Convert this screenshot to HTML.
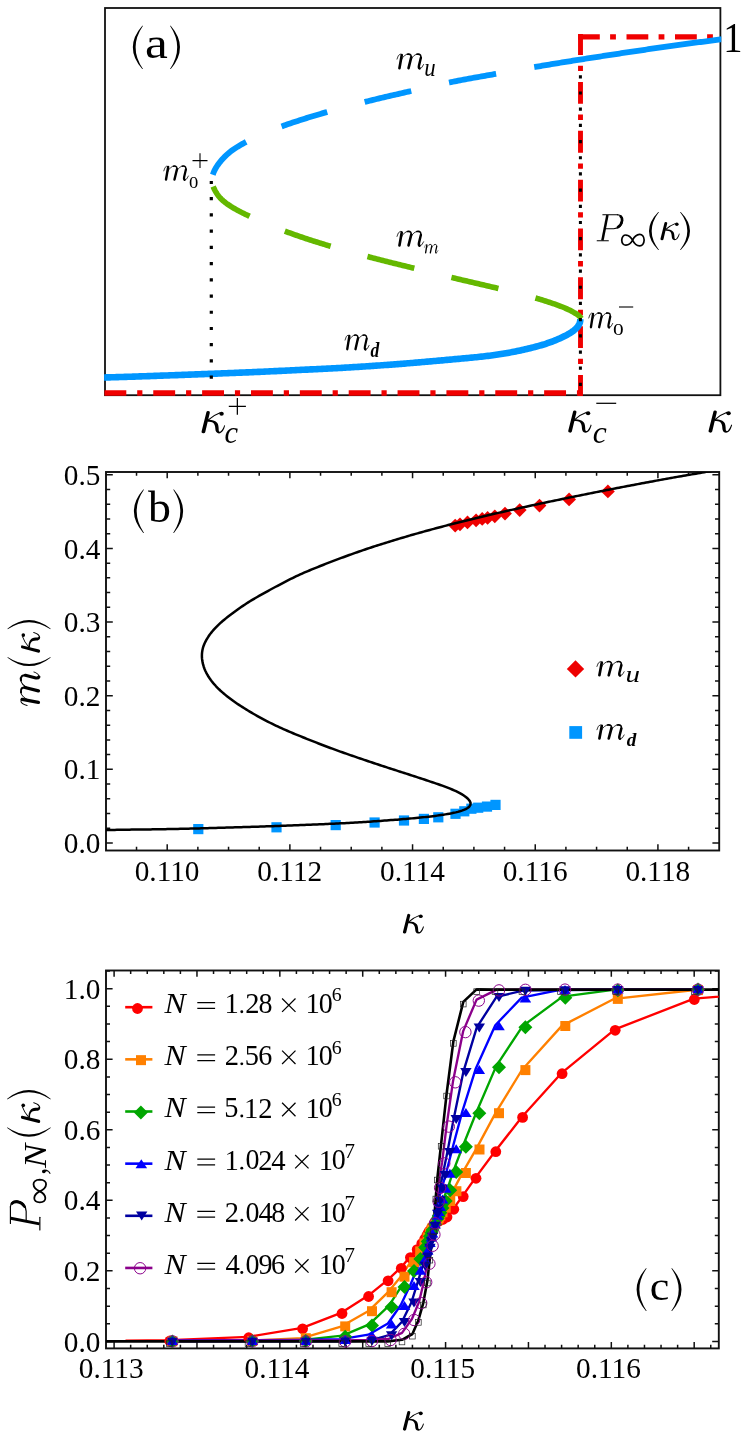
<!DOCTYPE html>
<html><head><meta charset="utf-8"><title>figure</title>
<style>
html,body{margin:0;padding:0;background:#fff;}
body{width:748px;height:1439px;overflow:hidden;font-family:"Liberation Serif",serif;}
svg{display:block;will-change:transform;}
svg text{font-family:"Liberation Serif",serif;fill:#000;}
</style></head><body>
<svg width="748" height="1439" viewBox="0 0 748 1439">
<g id="pa">
<clipPath id="clipA"><rect x="104.1" y="7.1" width="617.2" height="389"/></clipPath>
<rect x="105" y="8" width="615.4" height="387.2" fill="none" stroke="#111" stroke-width="1.8"/>
<g clip-path="url(#clipA)">
<path d="M104.4 392.9 H583" fill="none" stroke="#f00000" stroke-width="5.5" stroke-dasharray="21.9 10.9 5.2 10.86"/>
<path d="M580.5 396.8 V34.1" fill="none" stroke="#f00000" stroke-width="4.9" stroke-dasharray="21.8 10.9 5.4 10.73"/>
<path d="M578 36.8 H721" fill="none" stroke="#f00000" stroke-width="5.2" stroke-dasharray="21.8 10.3 5.8 10.6"/>
<path d="M580.3 319.2 L580.23 320.88 L579.89 322.49 L579.31 324.03 L578.53 325.48 L577.58 326.83 L576.49 328.1 L575.31 329.26 L574.05 330.33 L572.73 331.32 L571.37 332.25 L569.97 333.13 L568.56 333.97 L567.12 334.78 L565.67 335.56 L564.2 336.31 L562.72 337.03 L561.23 337.74 L559.73 338.42 L558.22 339.09 L556.71 339.73 L555.19 340.36 L553.66 340.97 L552.12 341.57 L550.58 342.14 L549.03 342.7 L547.47 343.24 L545.91 343.76 L544.34 344.27 L542.77 344.75 L541.19 345.23 L539.61 345.68 L538.02 346.13 L536.43 346.56 L534.84 346.98 L533.24 347.39 L531.65 347.79 L530.05 348.19 L528.44 348.58 L526.84 348.96 L525.24 349.33 L523.63 349.7 L522.02 350.06 L520.41 350.41 L518.8 350.76 L517.19 351.1 L515.58 351.43 L513.96 351.75 L512.34 352.07 L510.73 352.37 L509.11 352.68 L507.49 352.97 L505.86 353.25 L504.24 353.53 L502.62 353.8 L500.99 354.06 L499.36 354.31 L497.74 354.56 L496.11 354.8 L494.48 355.03 L492.84 355.25 L491.21 355.47 L489.58 355.68 L487.94 355.89 L486.31 356.08 L484.67 356.28 L483.04 356.47 L481.4 356.65 L479.76 356.83 L478.12 357 L476.49 357.17 L474.85 357.33 L473.21 357.49 L471.57 357.65 L469.93 357.81 L468.29 357.96 L466.65 358.11 L465.01 358.26 L463.37 358.41 L461.73 358.56 L460.09 358.71 L458.45 358.86 L456.81 359.01 L455.17 359.15 L453.53 359.3 L451.89 359.45 L450.25 359.6 L448.61 359.75 L446.97 359.89 L445.33 360.04 L443.69 360.19 L442.05 360.34 L440.41 360.48 L438.77 360.63 L437.13 360.78 L435.49 360.92 L433.85 361.07 L432.21 361.22 L430.57 361.36 L428.93 361.51 L427.29 361.65 L425.64 361.8 L424 361.94 L422.36 362.08 L420.72 362.22 L419.08 362.37 L417.44 362.51 L415.8 362.65 L414.16 362.78 L412.52 362.92 L410.88 363.06 L409.24 363.19 L407.59 363.33 L405.95 363.46 L404.31 363.59 L402.67 363.72 L401.03 363.85 L399.39 363.98 L397.74 364.1 L396.1 364.23 L394.46 364.35 L392.82 364.47 L391.18 364.6 L389.53 364.72 L387.89 364.84 L386.25 364.96 L384.61 365.07 L382.96 365.19 L381.32 365.31 L379.68 365.42 L378.03 365.54 L376.39 365.65 L374.75 365.76 L373.11 365.88 L371.46 365.99 L369.82 366.1 L368.18 366.21 L366.53 366.32 L364.89 366.43 L363.25 366.53 L361.6 366.64 L359.96 366.75 L358.32 366.85 L356.67 366.95 L355.03 367.06 L353.39 367.16 L351.74 367.26 L350.1 367.36 L348.45 367.45 L346.81 367.55 L345.17 367.65 L343.52 367.74 L341.88 367.83 L340.23 367.93 L338.59 368.02 L336.94 368.11 L335.3 368.19 L333.66 368.28 L332.01 368.37 L330.37 368.45 L328.72 368.54 L327.08 368.62 L325.43 368.7 L323.79 368.78 L322.14 368.87 L320.5 368.95 L318.85 369.03 L317.21 369.11 L315.56 369.19 L313.92 369.27 L312.27 369.34 L310.63 369.42 L308.98 369.5 L307.34 369.58 L305.69 369.66 L304.05 369.74 L302.4 369.81 L300.76 369.89 L299.11 369.97 L297.47 370.05 L295.82 370.13 L294.18 370.21 L292.53 370.29 L290.89 370.37 L289.24 370.45 L287.6 370.53 L285.96 370.6 L284.31 370.68 L282.67 370.76 L281.02 370.84 L279.38 370.92 L277.73 371 L276.09 371.08 L274.44 371.15 L272.8 371.23 L271.15 371.31 L269.51 371.39 L267.86 371.46 L266.22 371.54 L264.57 371.61 L262.93 371.69 L261.28 371.76 L259.63 371.83 L257.99 371.91 L256.34 371.98 L254.7 372.05 L253.05 372.12 L251.41 372.19 L249.76 372.26 L248.12 372.33 L246.47 372.4 L244.83 372.47 L243.18 372.54 L241.54 372.6 L239.89 372.67 L238.25 372.74 L236.6 372.8 L234.95 372.87 L233.31 372.93 L231.66 373 L230.02 373.06 L228.37 373.13 L226.73 373.19 L225.08 373.26 L223.44 373.32 L221.79 373.38 L220.14 373.45 L218.5 373.51 L216.85 373.58 L215.21 373.64 L213.56 373.7 L211.92 373.76 L210.27 373.83 L208.63 373.89 L206.98 373.95 L205.33 374.02 L203.69 374.08 L202.04 374.14 L200.4 374.21 L198.75 374.27 L197.11 374.33 L195.46 374.39 L193.81 374.46 L192.17 374.52 L190.52 374.58 L188.88 374.64 L187.23 374.71 L185.59 374.77 L183.94 374.83 L182.3 374.89 L180.65 374.95 L179 375.01 L177.36 375.08 L175.71 375.14 L174.07 375.2 L172.42 375.26 L170.78 375.32 L169.13 375.38 L167.48 375.44 L165.84 375.5 L164.19 375.56 L162.55 375.62 L160.9 375.67 L159.26 375.73 L157.61 375.79 L155.96 375.85 L154.32 375.91 L152.67 375.97 L151.03 376.02 L149.38 376.08 L147.74 376.14 L146.09 376.19 L144.44 376.25 L142.8 376.3 L141.15 376.36 L139.51 376.41 L137.86 376.47 L136.21 376.52 L134.57 376.58 L132.92 376.63 L131.28 376.68 L129.63 376.73 L127.98 376.79 L126.34 376.84 L124.69 376.89 L123.05 376.94 L121.4 376.99 L119.75 377.04 L118.11 377.09 L116.46 377.14 L114.82 377.19 L113.17 377.24 L111.52 377.28 L109.88 377.33 L108.23 377.38 L106.58 377.42 L104.94 377.47 L103.29 377.51 L101.65 377.56 L100 377.6" fill="none" stroke="#0096ff" stroke-width="6.6" stroke-linejoin="round"/>
<path d="M213.23 186.55 L213.73 187.81 L214.27 189.05 L214.87 190.27 L215.51 191.47 L216.2 192.63 L216.94 193.77 L217.72 194.88 L218.54 195.96 L219.4 197 L220.3 198 L221.24 198.97 L222.21 199.91 L223.21 200.82 L224.24 201.69 L225.29 202.54 L226.37 203.36 L227.47 204.16 L228.59 204.93 L229.72 205.68 L230.87 206.42 L232.03 207.13 L233.19 207.83 L234.36 208.52 L235.54 209.19 L236.72 209.85 L237.91 210.49 L239.1 211.13 L240.3 211.75 L241.5 212.37 L242.7 212.97 L243.91 213.57 L245.12 214.16 L246.33 214.75 L247.55 215.33 L248.77 215.9 L249.99 216.47 L251.21 217.04 L252.43 217.61 L253.66 218.17 L254.89 218.73 L256.12 219.28 L257.35 219.83 L258.58 220.38 L259.81 220.92 L261.05 221.47 L262.29 222 L263.53 222.54 L264.77 223.07 L266.01 223.6 L267.25 224.12 L268.5 224.64 L269.75 225.16 L271 225.67 L272.25 226.19 L273.5 226.69 L274.75 227.2 L276 227.7 L277.26 228.2 L278.52 228.69 L279.77 229.18 L281.03 229.67 L282.29 230.15 L283.56 230.63 L284.82 231.11 L286.08 231.58 L287.35 232.05 L288.61 232.52 L289.88 232.98 L291.15 233.44 L292.42 233.9 L293.69 234.36 L294.96 234.81 L296.24 235.25 L297.51 235.7 L298.79 236.14 L300.06 236.58 L301.34 237.02 L302.62 237.45 L303.9 237.88 L305.18 238.31 L306.46 238.73 L307.74 239.16 L309.02 239.58 L310.31 239.99 L311.59 240.41 L312.87 240.82 L314.16 241.23 L315.45 241.64 L316.73 242.04 L318.02 242.45 L319.31 242.85 L320.6 243.25 L321.89 243.64 L323.18 244.04 L324.47 244.43 L325.76 244.82 L327.06 245.21 L328.35 245.59 L329.64 245.98 L330.94 246.36 L332.23 246.74 L333.53 247.12 L334.82 247.49 L336.12 247.87 L337.42 248.24 L338.71 248.62 L340.01 248.99 L341.31 249.35 L342.61 249.72 L343.91 250.09 L345.21 250.45 L346.5 250.82 L347.8 251.18 L349.1 251.54 L350.41 251.9 L351.71 252.26 L353.01 252.61 L354.31 252.97 L355.61 253.32 L356.91 253.68 L358.22 254.03 L359.52 254.38 L360.82 254.73 L362.12 255.08 L363.43 255.43 L364.73 255.78 L366.03 256.13 L367.34 256.48 L368.64 256.82 L369.95 257.17 L371.25 257.52 L372.56 257.86 L373.86 258.2 L375.17 258.55 L376.47 258.89 L377.78 259.23 L379.08 259.56 L380.39 259.9 L381.7 260.24 L383 260.57 L384.31 260.9 L385.62 261.23 L386.93 261.56 L388.24 261.89 L389.55 262.21 L390.86 262.54 L392.17 262.86 L393.48 263.19 L394.79 263.51 L396.1 263.83 L397.41 264.15 L398.72 264.48 L400.03 264.8 L401.34 265.12 L402.65 265.44 L403.96 265.76 L405.27 266.07 L406.58 266.39 L407.89 266.71 L409.2 267.03 L410.52 267.35 L411.83 267.67 L413.14 267.99 L414.45 268.31 L415.76 268.64 L417.07 268.96 L418.38 269.28 L419.69 269.6 L421 269.92 L422.31 270.25 L423.62 270.57 L424.93 270.9 L426.24 271.22 L427.55 271.54 L428.86 271.87 L430.17 272.19 L431.48 272.52 L432.79 272.84 L434.1 273.16 L435.41 273.49 L436.72 273.81 L438.03 274.13 L439.34 274.46 L440.65 274.78 L441.96 275.1 L443.27 275.42 L444.58 275.74 L445.89 276.06 L447.2 276.38 L448.51 276.7 L449.82 277.02 L451.14 277.34 L452.45 277.65 L453.76 277.97 L455.07 278.28 L456.38 278.6 L457.7 278.91 L459.01 279.22 L460.32 279.53 L461.63 279.85 L462.95 280.16 L464.26 280.47 L465.57 280.78 L466.89 281.08 L468.2 281.39 L469.51 281.7 L470.83 282.01 L472.14 282.32 L473.45 282.62 L474.77 282.93 L476.08 283.24 L477.39 283.55 L478.71 283.85 L480.02 284.16 L481.34 284.46 L482.65 284.77 L483.96 285.08 L485.28 285.38 L486.59 285.69 L487.91 286 L489.22 286.31 L490.53 286.61 L491.85 286.92 L493.16 287.23 L494.48 287.54 L495.79 287.84 L497.11 288.15 L498.42 288.46 L499.73 288.77 L501.05 289.08 L502.36 289.39 L503.67 289.71 L504.99 290.02 L506.3 290.33 L507.61 290.65 L508.93 290.97 L510.24 291.29 L511.55 291.61 L512.86 291.93 L514.17 292.25 L515.48 292.58 L516.79 292.91 L518.1 293.24 L519.41 293.57 L520.71 293.91 L522.02 294.25 L523.32 294.59 L524.63 294.93 L525.93 295.28 L527.23 295.64 L528.53 295.99 L529.84 296.35 L531.13 296.71 L532.43 297.08 L533.73 297.45 L535.02 297.83 L536.32 298.21 L537.61 298.59 L538.9 298.98 L540.19 299.37 L541.48 299.77 L542.77 300.17 L544.05 300.58 L545.34 300.99 L546.62 301.4 L547.9 301.82 L549.19 302.24 L550.47 302.67 L551.75 303.1 L553.03 303.54 L554.31 303.97 L555.58 304.42 L556.86 304.87 L558.13 305.32 L559.4 305.79 L560.66 306.27 L561.92 306.76 L563.18 307.26 L564.42 307.77 L565.66 308.31 L566.89 308.86 L568.1 309.42 L569.31 310.01 L570.51 310.62 L571.71 311.25 L572.89 311.9 L574.07 312.56 L575.24 313.25 L576.41 313.95 L577.55 314.7 L578.63 315.51 L579.62 316.42 L580.48 317.44 L581.2 318.6" fill="none" stroke="#64b800" stroke-width="5.6" stroke-dasharray="48.3 38.2 48.3 38.2 48.3 38.2 48.3 38.2 70 100"/>
<path d="M212.8 174.66 L213.42 172.95 L214.13 171.29 L214.93 169.66 L215.81 168.06 L216.76 166.5 L217.77 164.98 L218.84 163.5 L219.96 162.05 L221.11 160.63 L222.31 159.25 L223.55 157.91 L224.82 156.61 L226.13 155.34 L227.47 154.12 L228.85 152.93 L230.27 151.79 L231.71 150.69 L233.18 149.63 L234.68 148.6 L236.21 147.61 L237.75 146.64 L239.32 145.71 L240.89 144.79 L242.48 143.9 L244.08 143.02 L245.69 142.16 L247.3 141.31 L248.92 140.47 L250.54 139.65 L252.17 138.83 L253.8 138.03 L255.43 137.23 L257.07 136.45 L258.72 135.68 L260.37 134.93 L262.03 134.19 L263.69 133.46 L265.36 132.74 L267.04 132.04 L268.72 131.35 L270.41 130.67 L272.1 130 L273.79 129.34 L275.49 128.69 L277.19 128.04 L278.9 127.41 L280.61 126.79 L282.32 126.17 L284.03 125.56 L285.75 124.96 L287.47 124.36 L289.19 123.77 L290.91 123.18 L292.63 122.6 L294.36 122.03 L296.08 121.46 L297.81 120.9 L299.54 120.34 L301.27 119.78 L303 119.23 L304.74 118.68 L306.47 118.14 L308.21 117.6 L309.94 117.06 L311.68 116.53 L313.42 116 L315.16 115.47 L316.9 114.95 L318.65 114.43 L320.39 113.92 L322.13 113.4 L323.88 112.9 L325.63 112.39 L327.38 111.89 L329.12 111.4 L330.87 110.9 L332.63 110.41 L334.38 109.93 L336.13 109.45 L337.88 108.97 L339.64 108.49 L341.39 108.02 L343.15 107.55 L344.91 107.08 L346.66 106.61 L348.42 106.15 L350.18 105.69 L351.94 105.23 L353.7 104.78 L355.46 104.32 L357.22 103.87 L358.98 103.42 L360.75 102.97 L362.51 102.53 L364.27 102.08 L366.03 101.64 L367.8 101.19 L369.56 100.75 L371.33 100.32 L373.09 99.88 L374.86 99.45 L376.62 99.01 L378.39 98.59 L380.16 98.16 L381.93 97.74 L383.7 97.32 L385.46 96.91 L387.24 96.49 L389.01 96.08 L390.78 95.67 L392.55 95.27 L394.32 94.86 L396.09 94.46 L397.87 94.05 L399.64 93.65 L401.41 93.25 L403.19 92.85 L404.96 92.44 L406.73 92.04 L408.5 91.64 L410.28 91.23 L412.05 90.83 L413.82 90.42 L415.59 90.01 L417.37 89.61 L419.14 89.2 L420.91 88.79 L422.68 88.38 L424.45 87.97 L426.22 87.56 L428 87.16 L429.77 86.75 L431.54 86.35 L433.32 85.95 L435.09 85.55 L436.86 85.15 L438.64 84.76 L440.41 84.37 L442.19 83.98 L443.97 83.6 L445.75 83.22 L447.52 82.85 L449.3 82.48 L451.08 82.11 L452.87 81.75 L454.65 81.39 L456.43 81.04 L458.22 80.69 L460 80.35 L461.79 80.01 L463.57 79.67 L465.36 79.33 L467.15 79 L468.93 78.67 L470.72 78.35 L472.51 78.02 L474.3 77.7 L476.09 77.38 L477.88 77.06 L479.67 76.74 L481.46 76.42 L483.25 76.11 L485.04 75.79 L486.83 75.48 L488.63 75.16 L490.42 74.85 L492.21 74.53 L494 74.22 L495.79 73.9 L497.58 73.59 L499.37 73.27 L501.16 72.95 L502.95 72.63 L504.74 72.31 L506.53 72 L508.32 71.68 L510.11 71.36 L511.9 71.04 L513.69 70.72 L515.48 70.4 L517.27 70.08 L519.06 69.77 L520.85 69.45 L522.64 69.13 L524.43 68.82 L526.22 68.5 L528.01 68.19 L529.8 67.88 L531.59 67.56 L533.38 67.25 L535.18 66.95 L536.97 66.64 L538.76 66.33 L540.55 66.03 L542.34 65.72 L544.14 65.42 L545.93 65.12 L547.72 64.82 L549.52 64.52 L551.31 64.22 L553.1 63.93 L554.9 63.63 L556.69 63.34 L558.49 63.04 L560.28 62.75 L562.08 62.46 L563.87 62.17 L565.66 61.88 L567.46 61.59 L569.25 61.31 L571.05 61.02 L572.85 60.73 L574.64 60.45 L576.44 60.16 L578.23 59.88 L580.03 59.6 L581.82 59.31 L583.62 59.03 L585.42 58.75 L587.21 58.47 L589.01 58.19 L590.81 57.91 L592.6 57.63 L594.4 57.35 L596.2 57.08 L597.99 56.8 L599.79 56.52 L601.59 56.25 L603.38 55.97 L605.18 55.69 L606.98 55.42 L608.77 55.15 L610.57 54.87 L612.37 54.6 L614.17 54.33 L615.96 54.05 L617.76 53.78 L619.56 53.51 L621.36 53.24 L623.16 52.97 L624.95 52.7 L626.75 52.43 L628.55 52.16 L630.35 51.89 L632.15 51.62 L633.94 51.36 L635.74 51.09 L637.54 50.82 L639.34 50.56 L641.14 50.29 L642.94 50.03 L644.74 49.77 L646.53 49.5 L648.33 49.24 L650.13 48.98 L651.93 48.72 L653.73 48.46 L655.53 48.2 L657.33 47.94 L659.13 47.69 L660.93 47.43 L662.73 47.17 L664.53 46.92 L666.33 46.66 L668.13 46.41 L669.93 46.16 L671.73 45.91 L673.53 45.65 L675.33 45.4 L677.13 45.16 L678.93 44.91 L680.74 44.66 L682.54 44.41 L684.34 44.17 L686.14 43.92 L687.94 43.68 L689.74 43.43 L691.54 43.19 L693.35 42.95 L695.15 42.71 L696.95 42.47 L698.75 42.23 L700.56 42 L702.36 41.76 L704.16 41.52 L705.96 41.29 L707.77 41.06 L709.57 40.82 L711.37 40.59 L713.18 40.36 L714.98 40.13 L716.78 39.9 L718.59 39.68 L720.39 39.45 L722.2 39.22 L724 39" fill="none" stroke="#0096ff" stroke-width="5.8" stroke-dasharray="47.9 38.7 47.9 38.7 47.9 38.7 47.9 38.7 2000 1"/>
<path d="M211.3 180.9 V380" fill="none" stroke="#000" stroke-width="3.2" stroke-dasharray="3.2 13.02"/>
<path d="M580.4 75.2 V387" fill="none" stroke="#000" stroke-width="3.0" stroke-dasharray="3.2 12.99"/>
</g>
<path transform="translate(132.8 25.7)" d="M9.45 0 Q-9.45 21.65 9.45 43.3 L10.2 43.3 Q-4.65 21.65 10.2 0 Z" fill="#000"/>
<text transform="translate(144.9 58.46) scale(1.180 1)" font-size="43.54">a</text>
<path transform="translate(170 25.7)" d="M0.75 0 Q19.25 21.65 0.75 43.3 L0 43.3 Q14.45 21.65 0 0 Z" fill="#000"/>
<text transform="translate(723.22 51.7) scale(0.919 1)" font-size="41.97">1</text>
<g transform="translate(396.6 53.4) scale(15.31 16.1)" fill="none" stroke="#000" stroke-linecap="round" stroke-linejoin="round">
<path d="M0.335 0.11 L0.185 0.915" stroke-width="0.17"/>
<path d="M0.955 0.25 L0.78 0.915" stroke-width="0.17"/>
<path d="M1.585 0.27 L1.465 0.74 Q1.425 0.90 1.50 0.935" stroke-width="0.16"/>
<path d="M0.025 0.355 Q0.10 0.06 0.24 0.045 Q0.32 0.045 0.335 0.12" stroke-width="0.05"/>
<path d="M0.29 0.44 Q0.48 0.03 0.78 0.04" stroke-width="0.05"/>
<path d="M0.70 0.05 Q0.85 0.02 0.925 0.10 Q0.965 0.16 0.955 0.26" stroke-width="0.10"/>
<path d="M0.91 0.44 Q1.10 0.03 1.40 0.04" stroke-width="0.05"/>
<path d="M1.32 0.05 Q1.48 0.02 1.555 0.10 Q1.595 0.16 1.585 0.28" stroke-width="0.10"/>
<path d="M1.50 0.94 Q1.66 0.96 1.765 0.69" stroke-width="0.05"/>
</g>
<text transform="translate(424.26 75.78) scale(0.897 1)" font-size="25.4" font-style="italic">u</text>
<g transform="translate(396.6 230.7) scale(15.31 16.1)" fill="none" stroke="#000" stroke-linecap="round" stroke-linejoin="round">
<path d="M0.335 0.11 L0.185 0.915" stroke-width="0.17"/>
<path d="M0.955 0.25 L0.78 0.915" stroke-width="0.17"/>
<path d="M1.585 0.27 L1.465 0.74 Q1.425 0.90 1.50 0.935" stroke-width="0.16"/>
<path d="M0.025 0.355 Q0.10 0.06 0.24 0.045 Q0.32 0.045 0.335 0.12" stroke-width="0.05"/>
<path d="M0.29 0.44 Q0.48 0.03 0.78 0.04" stroke-width="0.05"/>
<path d="M0.70 0.05 Q0.85 0.02 0.925 0.10 Q0.965 0.16 0.955 0.26" stroke-width="0.10"/>
<path d="M0.91 0.44 Q1.10 0.03 1.40 0.04" stroke-width="0.05"/>
<path d="M1.32 0.05 Q1.48 0.02 1.555 0.10 Q1.595 0.16 1.585 0.28" stroke-width="0.10"/>
<path d="M1.50 0.94 Q1.66 0.96 1.765 0.69" stroke-width="0.05"/>
</g>
<g transform="translate(424.2 244) scale(7.88 9.5)" fill="none" stroke="#000" stroke-linecap="round" stroke-linejoin="round">
<path d="M0.335 0.11 L0.185 0.915" stroke-width="0.17"/>
<path d="M0.955 0.25 L0.78 0.915" stroke-width="0.17"/>
<path d="M1.585 0.27 L1.465 0.74 Q1.425 0.90 1.50 0.935" stroke-width="0.16"/>
<path d="M0.025 0.355 Q0.10 0.06 0.24 0.045 Q0.32 0.045 0.335 0.12" stroke-width="0.05"/>
<path d="M0.29 0.44 Q0.48 0.03 0.78 0.04" stroke-width="0.05"/>
<path d="M0.70 0.05 Q0.85 0.02 0.925 0.10 Q0.965 0.16 0.955 0.26" stroke-width="0.10"/>
<path d="M0.91 0.44 Q1.10 0.03 1.40 0.04" stroke-width="0.05"/>
<path d="M1.32 0.05 Q1.48 0.02 1.555 0.10 Q1.595 0.16 1.585 0.28" stroke-width="0.10"/>
<path d="M1.50 0.94 Q1.66 0.96 1.765 0.69" stroke-width="0.05"/>
</g>
<g transform="translate(344.7 334.4) scale(13.85 16)" fill="none" stroke="#000" stroke-linecap="round" stroke-linejoin="round">
<path d="M0.335 0.11 L0.185 0.915" stroke-width="0.17"/>
<path d="M0.955 0.25 L0.78 0.915" stroke-width="0.17"/>
<path d="M1.585 0.27 L1.465 0.74 Q1.425 0.90 1.50 0.935" stroke-width="0.16"/>
<path d="M0.025 0.355 Q0.10 0.06 0.24 0.045 Q0.32 0.045 0.335 0.12" stroke-width="0.05"/>
<path d="M0.29 0.44 Q0.48 0.03 0.78 0.04" stroke-width="0.05"/>
<path d="M0.70 0.05 Q0.85 0.02 0.925 0.10 Q0.965 0.16 0.955 0.26" stroke-width="0.10"/>
<path d="M0.91 0.44 Q1.10 0.03 1.40 0.04" stroke-width="0.05"/>
<path d="M1.32 0.05 Q1.48 0.02 1.555 0.10 Q1.595 0.16 1.585 0.28" stroke-width="0.10"/>
<path d="M1.50 0.94 Q1.66 0.96 1.765 0.69" stroke-width="0.05"/>
</g>
<text transform="translate(370.58 356.99) scale(0.838 1)" font-size="20.99" font-style="italic" font-weight="bold">d</text>
<g transform="translate(163.4 165.4) scale(14.19 15.4)" fill="none" stroke="#000" stroke-linecap="round" stroke-linejoin="round">
<path d="M0.335 0.11 L0.185 0.915" stroke-width="0.17"/>
<path d="M0.955 0.25 L0.78 0.915" stroke-width="0.17"/>
<path d="M1.585 0.27 L1.465 0.74 Q1.425 0.90 1.50 0.935" stroke-width="0.16"/>
<path d="M0.025 0.355 Q0.10 0.06 0.24 0.045 Q0.32 0.045 0.335 0.12" stroke-width="0.05"/>
<path d="M0.29 0.44 Q0.48 0.03 0.78 0.04" stroke-width="0.05"/>
<path d="M0.70 0.05 Q0.85 0.02 0.925 0.10 Q0.965 0.16 0.955 0.26" stroke-width="0.10"/>
<path d="M0.91 0.44 Q1.10 0.03 1.40 0.04" stroke-width="0.05"/>
<path d="M1.32 0.05 Q1.48 0.02 1.555 0.10 Q1.595 0.16 1.585 0.28" stroke-width="0.10"/>
<path d="M1.50 0.94 Q1.66 0.96 1.765 0.69" stroke-width="0.05"/>
</g>
<text transform="translate(189.1 188.24) scale(1.151 1)" font-size="16.15">0</text>
<path d="M192.5 160.6 H207.5 M200 153.3 V167.9" stroke="#000" stroke-width="1.1" fill="none"/>
<g transform="translate(588.4 312.3) scale(13.8 16.1)" fill="none" stroke="#000" stroke-linecap="round" stroke-linejoin="round">
<path d="M0.335 0.11 L0.185 0.915" stroke-width="0.17"/>
<path d="M0.955 0.25 L0.78 0.915" stroke-width="0.17"/>
<path d="M1.585 0.27 L1.465 0.74 Q1.425 0.90 1.50 0.935" stroke-width="0.16"/>
<path d="M0.025 0.355 Q0.10 0.06 0.24 0.045 Q0.32 0.045 0.335 0.12" stroke-width="0.05"/>
<path d="M0.29 0.44 Q0.48 0.03 0.78 0.04" stroke-width="0.05"/>
<path d="M0.70 0.05 Q0.85 0.02 0.925 0.10 Q0.965 0.16 0.955 0.26" stroke-width="0.10"/>
<path d="M0.91 0.44 Q1.10 0.03 1.40 0.04" stroke-width="0.05"/>
<path d="M1.32 0.05 Q1.48 0.02 1.555 0.10 Q1.595 0.16 1.585 0.28" stroke-width="0.10"/>
<path d="M1.50 0.94 Q1.66 0.96 1.765 0.69" stroke-width="0.05"/>
</g>
<text transform="translate(613.1 334.94) scale(1.302 1)" font-size="16.44">0</text>
<path d="M619 307 H633.2" stroke="#000" stroke-width="1.1" fill="none"/>
<g transform="translate(201.3 433.3) scale(21.94 22.2) translate(0 -1)" fill="#000" stroke="none">
<path d="M0.235 0.045 Q0.25 -0.01 0.32 0 Q0.405 0.012 0.388 0.075 L0.178 0.95 Q0.158 1.012 0.08 1.0 Q-0.005 0.985 0.012 0.92 Z"/>
<path d="M0.29 0.39 Q0.55 0.155 0.85 0.05 L0.87 0.095 Q0.57 0.195 0.31 0.435 Z"/>
<ellipse cx="0.924" cy="0.12" rx="0.10" ry="0.094"/>
<path d="M0.27 0.40 C0.40 0.38 0.60 0.40 0.72 0.53 C0.78 0.60 0.79 0.72 0.795 0.86 C0.80 0.93 0.85 0.95 0.90 0.90 C0.97 0.83 1.02 0.72 1.045 0.635 L1.085 0.65 C1.05 0.80 0.96 1.005 0.80 1.005 C0.68 1.0 0.645 0.90 0.64 0.80 C0.635 0.66 0.60 0.56 0.52 0.51 C0.45 0.47 0.36 0.47 0.28 0.48 Z"/>
</g>
<text transform="translate(224.58 443.19) scale(0.998 1)" font-size="30.62" font-style="italic">c</text>
<path d="M228.8 406.3 H245.9 M237.35 397.9 V414.8" stroke="#000" stroke-width="1.25" fill="none"/>
<g transform="translate(568 432.6) scale(21.75 22) translate(0 -1)" fill="#000" stroke="none">
<path d="M0.235 0.045 Q0.25 -0.01 0.32 0 Q0.405 0.012 0.388 0.075 L0.178 0.95 Q0.158 1.012 0.08 1.0 Q-0.005 0.985 0.012 0.92 Z"/>
<path d="M0.29 0.39 Q0.55 0.155 0.85 0.05 L0.87 0.095 Q0.57 0.195 0.31 0.435 Z"/>
<ellipse cx="0.924" cy="0.12" rx="0.10" ry="0.094"/>
<path d="M0.27 0.40 C0.40 0.38 0.60 0.40 0.72 0.53 C0.78 0.60 0.79 0.72 0.795 0.86 C0.80 0.93 0.85 0.95 0.90 0.90 C0.97 0.83 1.02 0.72 1.045 0.635 L1.085 0.65 C1.05 0.80 0.96 1.005 0.80 1.005 C0.68 1.0 0.645 0.90 0.64 0.80 C0.635 0.66 0.60 0.56 0.52 0.51 C0.45 0.47 0.36 0.47 0.28 0.48 Z"/>
</g>
<text transform="translate(592.75 442.69) scale(1.010 1)" font-size="31.25" font-style="italic">c</text>
<path d="M596.3 403.3 H616.2" stroke="#000" stroke-width="1.25" fill="none"/>
<g transform="translate(708.3 432.6) scale(21.94 22) translate(0 -1)" fill="#000" stroke="none">
<path d="M0.235 0.045 Q0.25 -0.01 0.32 0 Q0.405 0.012 0.388 0.075 L0.178 0.95 Q0.158 1.012 0.08 1.0 Q-0.005 0.985 0.012 0.92 Z"/>
<path d="M0.29 0.39 Q0.55 0.155 0.85 0.05 L0.87 0.095 Q0.57 0.195 0.31 0.435 Z"/>
<ellipse cx="0.924" cy="0.12" rx="0.10" ry="0.094"/>
<path d="M0.27 0.40 C0.40 0.38 0.60 0.40 0.72 0.53 C0.78 0.60 0.79 0.72 0.795 0.86 C0.80 0.93 0.85 0.95 0.90 0.90 C0.97 0.83 1.02 0.72 1.045 0.635 L1.085 0.65 C1.05 0.80 0.96 1.005 0.80 1.005 C0.68 1.0 0.645 0.90 0.64 0.80 C0.635 0.66 0.60 0.56 0.52 0.51 C0.45 0.47 0.36 0.47 0.28 0.48 Z"/>
</g>
<g transform="translate(596.7 214.3) scale(26.5 27)" fill="none" stroke="#000" stroke-linecap="round" stroke-linejoin="round">
<path d="M0.405 0.03 L0.215 0.97" stroke-width="0.095" stroke-linecap="butt"/>
<path d="M0.23 0.02 L0.80 0.02" stroke-width="0.038"/>
<path d="M0.015 0.982 L0.44 0.982" stroke-width="0.038"/>
<path d="M0.78 0.02 Q0.99 0.035 0.985 0.225 Q0.965 0.50 0.64 0.535 L0.32 0.535" stroke-width="0.038"/>
<path d="M0.90 0.075 Q0.965 0.13 0.955 0.24 Q0.93 0.40 0.80 0.475" stroke-width="0.095"/>
</g>
<path transform="translate(632.6 240.1)" d="M0 0 C-3.47 -6.46 -10.63 -7.07 -10.86 0 C-10.63 7.07 -3.47 6.46 0 0 C3.47 -7.38 11.32 -8 11.55 0 C11.32 8 3.47 7.38 0 0 Z" fill="none" stroke="#000" stroke-width="1.7"/>
<path transform="translate(649 212)" d="M9.25 0 Q-9.25 19 9.25 38 L10 38 Q-4.65 19 10 0 Z" fill="#000"/>
<g transform="translate(660.3 240.2) scale(17.88 18.2) translate(0 -1)" fill="#000" stroke="none">
<path d="M0.235 0.045 Q0.25 -0.01 0.32 0 Q0.405 0.012 0.388 0.075 L0.178 0.95 Q0.158 1.012 0.08 1.0 Q-0.005 0.985 0.012 0.92 Z"/>
<path d="M0.29 0.39 Q0.55 0.155 0.85 0.05 L0.87 0.095 Q0.57 0.195 0.31 0.435 Z"/>
<ellipse cx="0.924" cy="0.12" rx="0.10" ry="0.094"/>
<path d="M0.27 0.40 C0.40 0.38 0.60 0.40 0.72 0.53 C0.78 0.60 0.79 0.72 0.795 0.86 C0.80 0.93 0.85 0.95 0.90 0.90 C0.97 0.83 1.02 0.72 1.045 0.635 L1.085 0.65 C1.05 0.80 0.96 1.005 0.80 1.005 C0.68 1.0 0.645 0.90 0.64 0.80 C0.635 0.66 0.60 0.56 0.52 0.51 C0.45 0.47 0.36 0.47 0.28 0.48 Z"/>
</g>
<path transform="translate(680 212)" d="M0.75 0 Q19.25 19 0.75 38 L0 38 Q14.65 19 0 0 Z" fill="#000"/>
</g>
<g id="pb">
<clipPath id="clipB"><rect x="106" y="472" width="613.2" height="378.5"/></clipPath>
<path d="M136.53 850.5 v-3.8 M136.53 472 v3.8 M167.2 850.5 v-6.3 M167.2 472 v6.3 M197.87 850.5 v-3.8 M197.87 472 v3.8 M228.54 850.5 v-3.8 M228.54 472 v3.8 M259.21 850.5 v-3.8 M259.21 472 v3.8 M289.88 850.5 v-6.3 M289.88 472 v6.3 M320.55 850.5 v-3.8 M320.55 472 v3.8 M351.22 850.5 v-3.8 M351.22 472 v3.8 M381.89 850.5 v-3.8 M381.89 472 v3.8 M412.56 850.5 v-6.3 M412.56 472 v6.3 M443.23 850.5 v-3.8 M443.23 472 v3.8 M473.9 850.5 v-3.8 M473.9 472 v3.8 M504.57 850.5 v-3.8 M504.57 472 v3.8 M535.24 850.5 v-6.3 M535.24 472 v6.3 M565.91 850.5 v-3.8 M565.91 472 v3.8 M596.58 850.5 v-3.8 M596.58 472 v3.8 M627.25 850.5 v-3.8 M627.25 472 v3.8 M657.92 850.5 v-6.3 M657.92 472 v6.3 M688.59 850.5 v-3.8 M688.59 472 v3.8 M106 843 h6.8 M719.2 843 h-6.8 M106 828.27 h4.2 M719.2 828.27 h-4.2 M106 813.54 h4.2 M719.2 813.54 h-4.2 M106 798.81 h4.2 M719.2 798.81 h-4.2 M106 784.08 h4.2 M719.2 784.08 h-4.2 M106 769.35 h6.8 M719.2 769.35 h-6.8 M106 754.62 h4.2 M719.2 754.62 h-4.2 M106 739.89 h4.2 M719.2 739.89 h-4.2 M106 725.16 h4.2 M719.2 725.16 h-4.2 M106 710.43 h4.2 M719.2 710.43 h-4.2 M106 695.7 h6.8 M719.2 695.7 h-6.8 M106 680.97 h4.2 M719.2 680.97 h-4.2 M106 666.24 h4.2 M719.2 666.24 h-4.2 M106 651.51 h4.2 M719.2 651.51 h-4.2 M106 636.78 h4.2 M719.2 636.78 h-4.2 M106 622.05 h6.8 M719.2 622.05 h-6.8 M106 607.32 h4.2 M719.2 607.32 h-4.2 M106 592.59 h4.2 M719.2 592.59 h-4.2 M106 577.86 h4.2 M719.2 577.86 h-4.2 M106 563.13 h4.2 M719.2 563.13 h-4.2 M106 548.4 h6.8 M719.2 548.4 h-6.8 M106 533.67 h4.2 M719.2 533.67 h-4.2 M106 518.94 h4.2 M719.2 518.94 h-4.2 M106 504.21 h4.2 M719.2 504.21 h-4.2 M106 489.48 h4.2 M719.2 489.48 h-4.2 M106 474.75 h6.8 M719.2 474.75 h-6.8" stroke="#111" stroke-width="1.5" fill="none"/>
<rect x="106" y="472" width="613.2" height="378.5" fill="none" stroke="#111" stroke-width="1.9"/>
<text x="100.4" y="853.1" font-size="29.3" text-anchor="end">0.0</text>
<text x="100.4" y="779.45" font-size="29.3" text-anchor="end">0.1</text>
<text x="100.4" y="705.8" font-size="29.3" text-anchor="end">0.2</text>
<text x="100.4" y="632.15" font-size="29.3" text-anchor="end">0.3</text>
<text x="100.4" y="558.5" font-size="29.3" text-anchor="end">0.4</text>
<text x="100.4" y="484.85" font-size="29.3" text-anchor="end">0.5</text>
<text x="167.1" y="880.5" font-size="29.3" text-anchor="middle">0.110</text>
<text x="289.78" y="880.5" font-size="29.3" text-anchor="middle">0.112</text>
<text x="412.46" y="880.5" font-size="29.3" text-anchor="middle">0.114</text>
<text x="535.14" y="880.5" font-size="29.3" text-anchor="middle">0.116</text>
<text x="657.82" y="880.5" font-size="29.3" text-anchor="middle">0.118</text>
<rect x="193.2" y="824" width="10.2" height="10.2" fill="#0096ff"/>
<rect x="271.4" y="822.2" width="10.2" height="10.2" fill="#0096ff"/>
<rect x="330.6" y="820" width="10.2" height="10.2" fill="#0096ff"/>
<rect x="369.5" y="817.4" width="10.2" height="10.2" fill="#0096ff"/>
<rect x="398.9" y="815.4" width="10.2" height="10.2" fill="#0096ff"/>
<rect x="418.8" y="813.8" width="10.2" height="10.2" fill="#0096ff"/>
<rect x="433.2" y="812.2" width="10.2" height="10.2" fill="#0096ff"/>
<rect x="450.4" y="808.7" width="10.2" height="10.2" fill="#0096ff"/>
<rect x="459.2" y="806.2" width="10.2" height="10.2" fill="#0096ff"/>
<rect x="466.3" y="803.6" width="10.2" height="10.2" fill="#0096ff"/>
<rect x="473.1" y="802.6" width="10.2" height="10.2" fill="#0096ff"/>
<rect x="481.9" y="801.5" width="10.2" height="10.2" fill="#0096ff"/>
<rect x="490.4" y="799.8" width="10.2" height="10.2" fill="#0096ff"/>
<path d="M448.3 525.6 l6.9 -6.9 l6.9 6.9 l-6.9 6.9 Z" fill="#ee0000"/>
<path d="M453.1 524.3 l6.9 -6.9 l6.9 6.9 l-6.9 6.9 Z" fill="#ee0000"/>
<path d="M460.6 522.4 l6.9 -6.9 l6.9 6.9 l-6.9 6.9 Z" fill="#ee0000"/>
<path d="M469.2 520.3 l6.9 -6.9 l6.9 6.9 l-6.9 6.9 Z" fill="#ee0000"/>
<path d="M475.3 518.9 l6.9 -6.9 l6.9 6.9 l-6.9 6.9 Z" fill="#ee0000"/>
<path d="M480.7 517.9 l6.9 -6.9 l6.9 6.9 l-6.9 6.9 Z" fill="#ee0000"/>
<path d="M487.9 516.3 l6.9 -6.9 l6.9 6.9 l-6.9 6.9 Z" fill="#ee0000"/>
<path d="M498.1 513.6 l6.9 -6.9 l6.9 6.9 l-6.9 6.9 Z" fill="#ee0000"/>
<path d="M512.8 510.1 l6.9 -6.9 l6.9 6.9 l-6.9 6.9 Z" fill="#ee0000"/>
<path d="M532.6 505.6 l6.9 -6.9 l6.9 6.9 l-6.9 6.9 Z" fill="#ee0000"/>
<path d="M562.2 499.4 l6.9 -6.9 l6.9 6.9 l-6.9 6.9 Z" fill="#ee0000"/>
<path d="M601 491.4 l6.9 -6.9 l6.9 6.9 l-6.9 6.9 Z" fill="#ee0000"/>
<path d="M100 830.3 L102.11 830.22 L104.22 830.15 L106.32 830.09 L108.43 830.03 L110.54 829.98 L112.65 829.93 L114.76 829.88 L116.87 829.84 L118.98 829.8 L121.09 829.76 L123.19 829.73 L125.3 829.7 L127.41 829.67 L129.52 829.64 L131.63 829.61 L133.74 829.59 L135.85 829.57 L137.96 829.54 L140.07 829.52 L142.18 829.49 L144.29 829.47 L146.4 829.45 L148.51 829.42 L150.62 829.39 L152.72 829.36 L154.83 829.33 L156.94 829.3 L159.05 829.26 L161.16 829.23 L163.27 829.19 L165.38 829.15 L167.49 829.11 L169.6 829.07 L171.71 829.03 L173.82 828.99 L175.92 828.94 L178.03 828.89 L180.14 828.85 L182.25 828.8 L184.36 828.75 L186.47 828.7 L188.58 828.65 L190.69 828.6 L192.79 828.54 L194.9 828.49 L197.01 828.43 L199.12 828.38 L201.23 828.32 L203.34 828.27 L205.45 828.21 L207.55 828.15 L209.66 828.09 L211.77 828.03 L213.88 827.97 L215.99 827.91 L218.1 827.85 L220.21 827.79 L222.31 827.73 L224.42 827.67 L226.53 827.61 L228.64 827.54 L230.75 827.48 L232.86 827.42 L234.96 827.35 L237.07 827.29 L239.18 827.23 L241.29 827.16 L243.4 827.1 L245.51 827.03 L247.61 826.96 L249.72 826.9 L251.83 826.83 L253.94 826.76 L256.05 826.7 L258.16 826.63 L260.26 826.56 L262.37 826.49 L264.48 826.42 L266.59 826.35 L268.7 826.27 L270.81 826.2 L272.91 826.13 L275.02 826.05 L277.13 825.98 L279.24 825.9 L281.35 825.82 L283.45 825.75 L285.56 825.67 L287.67 825.59 L289.78 825.51 L291.88 825.42 L293.99 825.34 L296.1 825.26 L298.21 825.18 L300.32 825.09 L302.42 825.01 L304.53 824.92 L306.64 824.84 L308.75 824.75 L310.85 824.66 L312.96 824.58 L315.07 824.49 L317.18 824.4 L319.28 824.31 L321.39 824.22 L323.5 824.13 L325.61 824.04 L327.71 823.95 L329.82 823.86 L331.93 823.76 L334.03 823.67 L336.14 823.57 L338.25 823.47 L340.36 823.37 L342.46 823.27 L344.57 823.16 L346.68 823.06 L348.78 822.95 L350.89 822.83 L353 822.72 L355.1 822.59 L357.21 822.47 L359.31 822.34 L361.42 822.21 L363.52 822.07 L365.63 821.93 L367.73 821.79 L369.84 821.65 L371.94 821.5 L374.04 821.35 L376.15 821.2 L378.25 821.05 L380.36 820.9 L382.46 820.75 L384.56 820.6 L386.67 820.44 L388.77 820.28 L390.87 820.12 L392.98 819.96 L395.08 819.79 L397.18 819.63 L399.29 819.46 L401.39 819.29 L403.49 819.11 L405.59 818.93 L407.69 818.75 L409.8 818.57 L411.9 818.38 L414 818.18 L416.1 817.98 L418.2 817.78 L420.29 817.57 L422.39 817.36 L424.49 817.13 L426.59 816.91 L428.68 816.67 L430.78 816.42 L432.87 816.17 L434.97 815.9 L437.06 815.63 L439.15 815.34 L441.24 815.04 L443.32 814.72 L445.4 814.38 L447.48 814.03 L449.56 813.66 L451.63 813.27 L453.69 812.83 L455.75 812.36 L457.8 811.84 L459.83 811.26 L461.84 810.61 L463.81 809.89 L465.74 809.05 L467.59 808.01 L469.3 806.66 L470.43 804.9 L470.54 802.79 L469.67 800.87 L468.31 799.22 L466.79 797.74 L465.15 796.42 L463.42 795.21 L461.63 794.09 L459.79 793.06 L457.91 792.09 L456.01 791.18 L454.08 790.32 L452.13 789.49 L450.17 788.69 L448.21 787.91 L446.24 787.15 L444.27 786.41 L442.28 785.69 L440.3 784.98 L438.31 784.28 L436.32 783.59 L434.32 782.91 L432.32 782.23 L430.33 781.56 L428.33 780.89 L426.32 780.22 L424.32 779.56 L422.32 778.9 L420.32 778.24 L418.31 777.58 L416.31 776.92 L414.3 776.27 L412.3 775.62 L410.29 774.97 L408.28 774.31 L406.27 773.67 L404.27 773.02 L402.26 772.37 L400.25 771.72 L398.25 771.07 L396.24 770.42 L394.23 769.77 L392.22 769.12 L390.22 768.47 L388.21 767.82 L386.21 767.17 L384.2 766.51 L382.2 765.86 L380.19 765.2 L378.19 764.54 L376.19 763.87 L374.19 763.21 L372.18 762.54 L370.18 761.87 L368.18 761.2 L366.19 760.53 L364.19 759.85 L362.19 759.17 L360.19 758.5 L358.2 757.81 L356.2 757.13 L354.21 756.44 L352.21 755.76 L350.22 755.07 L348.23 754.37 L346.23 753.68 L344.24 752.98 L342.26 752.28 L340.27 751.57 L338.28 750.86 L336.3 750.14 L334.31 749.42 L332.33 748.7 L330.35 747.97 L328.38 747.23 L326.4 746.49 L324.43 745.74 L322.46 744.98 L320.49 744.22 L318.53 743.46 L316.56 742.69 L314.6 741.92 L312.64 741.15 L310.68 740.37 L308.72 739.59 L306.76 738.82 L304.8 738.03 L302.84 737.25 L300.88 736.46 L298.93 735.66 L296.98 734.86 L295.03 734.06 L293.08 733.24 L291.13 732.42 L289.19 731.6 L287.26 730.76 L285.32 729.91 L283.4 729.06 L281.47 728.19 L279.55 727.32 L277.64 726.43 L275.73 725.53 L273.83 724.61 L271.94 723.69 L270.05 722.75 L268.17 721.79 L266.29 720.83 L264.42 719.85 L262.56 718.85 L260.71 717.85 L258.86 716.83 L257.02 715.8 L255.18 714.76 L253.35 713.71 L251.53 712.64 L249.71 711.56 L247.91 710.47 L246.1 709.37 L244.31 708.26 L242.52 707.14 L240.74 706 L238.98 704.84 L237.22 703.67 L235.48 702.48 L233.75 701.27 L232.04 700.04 L230.34 698.78 L228.66 697.51 L227 696.21 L225.35 694.88 L223.73 693.52 L222.13 692.14 L220.56 690.73 L219.02 689.28 L217.52 687.79 L216.05 686.27 L214.63 684.71 L213.25 683.11 L211.92 681.47 L210.64 679.78 L209.42 678.04 L208.27 676.26 L207.19 674.44 L206.19 672.58 L205.28 670.67 L204.46 668.72 L203.74 666.72 L203.13 664.69 L202.63 662.63 L202.26 660.55 L202.01 658.44 L201.9 656.33 L201.94 654.21 L202.12 652.09 L202.45 650 L202.93 647.94 L203.56 645.93 L204.33 643.96 L205.22 642.05 L206.22 640.18 L207.29 638.35 L208.43 636.57 L209.63 634.83 L210.89 633.13 L212.2 631.48 L213.57 629.87 L214.98 628.3 L216.44 626.78 L217.94 625.29 L219.47 623.85 L221.04 622.43 L222.64 621.05 L224.25 619.69 L225.89 618.35 L227.55 617.03 L229.21 615.73 L230.89 614.45 L232.57 613.17 L234.27 611.91 L235.98 610.67 L237.69 609.44 L239.42 608.23 L241.15 607.04 L242.9 605.85 L244.66 604.69 L246.42 603.54 L248.2 602.41 L249.99 601.29 L251.79 600.19 L253.59 599.1 L255.41 598.03 L257.23 596.96 L259.06 595.91 L260.89 594.87 L262.73 593.83 L264.58 592.81 L266.42 591.79 L268.28 590.78 L270.13 589.77 L271.99 588.76 L273.85 587.77 L275.71 586.77 L277.58 585.78 L279.44 584.79 L281.31 583.8 L283.18 582.82 L285.05 581.85 L286.93 580.89 L288.81 579.94 L290.7 578.99 L292.59 578.06 L294.48 577.14 L296.38 576.22 L298.29 575.33 L300.21 574.44 L302.13 573.57 L304.05 572.72 L305.99 571.88 L307.93 571.05 L309.87 570.23 L311.82 569.42 L313.77 568.62 L315.73 567.83 L317.69 567.04 L319.65 566.26 L321.61 565.49 L323.58 564.73 L325.55 563.96 L327.51 563.2 L329.48 562.44 L331.45 561.69 L333.42 560.93 L335.4 560.18 L337.37 559.44 L339.34 558.69 L341.32 557.95 L343.29 557.22 L345.27 556.49 L347.25 555.76 L349.23 555.04 L351.22 554.32 L353.2 553.61 L355.19 552.91 L357.18 552.21 L359.17 551.51 L361.17 550.83 L363.16 550.14 L365.16 549.47 L367.16 548.79 L369.16 548.13 L371.16 547.46 L373.17 546.81 L375.17 546.15 L377.18 545.5 L379.19 544.86 L381.2 544.22 L383.21 543.58 L385.22 542.95 L387.24 542.32 L389.25 541.7 L391.27 541.08 L393.29 540.46 L395.3 539.85 L397.32 539.24 L399.34 538.63 L401.37 538.03 L403.39 537.43 L405.41 536.84 L407.44 536.24 L409.46 535.66 L411.49 535.07 L413.52 534.49 L415.55 533.91 L417.58 533.33 L419.61 532.76 L421.64 532.19 L423.67 531.63 L425.7 531.07 L427.74 530.51 L429.77 529.95 L431.81 529.4 L433.84 528.85 L435.88 528.3 L437.92 527.75 L439.96 527.21 L442 526.67 L444.04 526.14 L446.08 525.6 L448.12 525.07 L450.16 524.55 L452.2 524.02 L454.25 523.5 L456.29 522.98 L458.34 522.47 L460.38 521.95 L462.43 521.44 L464.48 520.93 L466.53 520.43 L468.57 519.92 L470.62 519.42 L472.67 518.92 L474.72 518.43 L476.77 517.93 L478.82 517.44 L480.88 516.95 L482.93 516.46 L484.98 515.98 L487.04 515.49 L489.09 515.01 L491.14 514.53 L493.2 514.06 L495.25 513.58 L497.31 513.11 L499.37 512.64 L501.42 512.17 L503.48 511.7 L505.54 511.24 L507.59 510.77 L509.65 510.31 L511.71 509.85 L513.77 509.39 L515.83 508.94 L517.89 508.48 L519.95 508.03 L522.01 507.58 L524.07 507.12 L526.13 506.68 L528.19 506.23 L530.25 505.78 L532.32 505.34 L534.38 504.89 L536.44 504.45 L538.5 504.01 L540.57 503.57 L542.63 503.13 L544.69 502.7 L546.76 502.26 L548.82 501.83 L550.89 501.39 L552.95 500.96 L555.02 500.53 L557.08 500.1 L559.15 499.67 L561.21 499.25 L563.28 498.82 L565.34 498.39 L567.41 497.97 L569.48 497.55 L571.54 497.12 L573.61 496.7 L575.68 496.28 L577.74 495.86 L579.81 495.45 L581.88 495.03 L583.95 494.61 L586.02 494.2 L588.08 493.78 L590.15 493.37 L592.22 492.96 L594.29 492.55 L596.36 492.14 L598.43 491.73 L600.5 491.32 L602.57 490.91 L604.64 490.5 L606.71 490.1 L608.78 489.69 L610.85 489.29 L612.92 488.88 L614.99 488.48 L617.06 488.08 L619.13 487.68 L621.2 487.28 L623.27 486.88 L625.34 486.48 L627.42 486.09 L629.49 485.69 L631.56 485.3 L633.63 484.9 L635.71 484.51 L637.78 484.12 L639.85 483.73 L641.92 483.34 L644 482.95 L646.07 482.56 L648.14 482.17 L650.22 481.79 L652.29 481.4 L654.37 481.02 L656.44 480.64 L658.52 480.26 L660.59 479.88 L662.67 479.5 L664.74 479.12 L666.82 478.75 L668.89 478.37 L670.97 478 L673.05 477.63 L675.12 477.26 L677.2 476.89 L679.28 476.53 L681.35 476.16 L683.43 475.8 L685.51 475.44 L687.59 475.08 L689.67 474.72 L691.75 474.36 L693.82 474 L695.9 473.65 L697.98 473.29 L700.06 472.93 L702.14 472.58 L704.22 472.22 L706.3 471.86 L708.38 471.5 L710.46 471.15 L712.53 470.79 L714.61 470.43 L716.69 470.06 L718.77 469.7 L720.85 469.34 L722.92 468.97 L725 468.6" fill="none" stroke="#000" stroke-width="2.5" stroke-linejoin="round" clip-path="url(#clipB)"/>
<path d="M566.8 668.9 l8.7 -8.7 l8.7 8.7 l-8.7 8.7 Z" fill="#ee0000"/>
<rect x="569.3" y="726.1" width="12.8" height="12.7" fill="#0096ff"/>
<g transform="translate(596.5 660.9) scale(15.7 15.7)" fill="none" stroke="#000" stroke-linecap="round" stroke-linejoin="round">
<path d="M0.335 0.11 L0.185 0.915" stroke-width="0.17"/>
<path d="M0.955 0.25 L0.78 0.915" stroke-width="0.17"/>
<path d="M1.585 0.27 L1.465 0.74 Q1.425 0.90 1.50 0.935" stroke-width="0.16"/>
<path d="M0.025 0.355 Q0.10 0.06 0.24 0.045 Q0.32 0.045 0.335 0.12" stroke-width="0.05"/>
<path d="M0.29 0.44 Q0.48 0.03 0.78 0.04" stroke-width="0.05"/>
<path d="M0.70 0.05 Q0.85 0.02 0.925 0.10 Q0.965 0.16 0.955 0.26" stroke-width="0.10"/>
<path d="M0.91 0.44 Q1.10 0.03 1.40 0.04" stroke-width="0.05"/>
<path d="M1.32 0.05 Q1.48 0.02 1.555 0.10 Q1.595 0.16 1.585 0.28" stroke-width="0.10"/>
<path d="M1.50 0.94 Q1.66 0.96 1.765 0.69" stroke-width="0.05"/>
</g>
<text transform="translate(625.55 682.2) scale(1.227 1)" font-size="23.7" font-style="italic">u</text>
<g transform="translate(596.5 724.2) scale(15.7 15.6)" fill="none" stroke="#000" stroke-linecap="round" stroke-linejoin="round">
<path d="M0.335 0.11 L0.185 0.915" stroke-width="0.17"/>
<path d="M0.955 0.25 L0.78 0.915" stroke-width="0.17"/>
<path d="M1.585 0.27 L1.465 0.74 Q1.425 0.90 1.50 0.935" stroke-width="0.16"/>
<path d="M0.025 0.355 Q0.10 0.06 0.24 0.045 Q0.32 0.045 0.335 0.12" stroke-width="0.05"/>
<path d="M0.29 0.44 Q0.48 0.03 0.78 0.04" stroke-width="0.05"/>
<path d="M0.70 0.05 Q0.85 0.02 0.925 0.10 Q0.965 0.16 0.955 0.26" stroke-width="0.10"/>
<path d="M0.91 0.44 Q1.10 0.03 1.40 0.04" stroke-width="0.05"/>
<path d="M1.32 0.05 Q1.48 0.02 1.555 0.10 Q1.595 0.16 1.585 0.28" stroke-width="0.10"/>
<path d="M1.50 0.94 Q1.66 0.96 1.765 0.69" stroke-width="0.05"/>
</g>
<text transform="translate(626.76 745.71) scale(0.995 1)" font-size="19.29" font-style="italic" font-weight="bold">d</text>
<path transform="translate(133.9 489.6)" d="M9.35 0 Q-9.35 21.65 9.35 43.3 L10.1 43.3 Q-4.55 21.65 10.1 0 Z" fill="#000"/>
<text transform="translate(148 522.37) scale(1.060 1)" font-size="43.26">b</text>
<path transform="translate(173.2 489.6)" d="M0.75 0 Q19.05 21.65 0.75 43.3 L0 43.3 Q14.25 21.65 0 0 Z" fill="#000"/>
<g transform="translate(20 705.9) rotate(-90) scale(19.27 20.1)" fill="none" stroke="#000" stroke-linecap="round" stroke-linejoin="round">
<path d="M0.335 0.11 L0.185 0.915" stroke-width="0.17"/>
<path d="M0.955 0.25 L0.78 0.915" stroke-width="0.17"/>
<path d="M1.585 0.27 L1.465 0.74 Q1.425 0.90 1.50 0.935" stroke-width="0.16"/>
<path d="M0.025 0.355 Q0.10 0.06 0.24 0.045 Q0.32 0.045 0.335 0.12" stroke-width="0.05"/>
<path d="M0.29 0.44 Q0.48 0.03 0.78 0.04" stroke-width="0.05"/>
<path d="M0.70 0.05 Q0.85 0.02 0.925 0.10 Q0.965 0.16 0.955 0.26" stroke-width="0.10"/>
<path d="M0.91 0.44 Q1.10 0.03 1.40 0.04" stroke-width="0.05"/>
<path d="M1.32 0.05 Q1.48 0.02 1.555 0.10 Q1.595 0.16 1.585 0.28" stroke-width="0.10"/>
<path d="M1.50 0.94 Q1.66 0.96 1.765 0.69" stroke-width="0.05"/>
</g>
<path transform="translate(7.6 666.1) rotate(-90)" d="M8.45 0 Q-8.45 21.45 8.45 42.9 L9.2 42.9 Q-4.85 21.45 9.2 0 Z" fill="#000"/>
<g transform="translate(40.1 652.9) rotate(-90) scale(19.26 19.1) translate(0 -1)" fill="#000" stroke="none">
<path d="M0.235 0.045 Q0.25 -0.01 0.32 0 Q0.405 0.012 0.388 0.075 L0.178 0.95 Q0.158 1.012 0.08 1.0 Q-0.005 0.985 0.012 0.92 Z"/>
<path d="M0.29 0.39 Q0.55 0.155 0.85 0.05 L0.87 0.095 Q0.57 0.195 0.31 0.435 Z"/>
<ellipse cx="0.924" cy="0.12" rx="0.10" ry="0.094"/>
<path d="M0.27 0.40 C0.40 0.38 0.60 0.40 0.72 0.53 C0.78 0.60 0.79 0.72 0.795 0.86 C0.80 0.93 0.85 0.95 0.90 0.90 C0.97 0.83 1.02 0.72 1.045 0.635 L1.085 0.65 C1.05 0.80 0.96 1.005 0.80 1.005 C0.68 1.0 0.645 0.90 0.64 0.80 C0.635 0.66 0.60 0.56 0.52 0.51 C0.45 0.47 0.36 0.47 0.28 0.48 Z"/>
</g>
<path transform="translate(7.6 629.3) rotate(-90)" d="M0.75 0 Q17.85 21.45 0.75 42.9 L0 42.9 Q14.25 21.45 0 0 Z" fill="#000"/>
<g transform="translate(402.7 933.5) scale(19.54 19.6) translate(0 -1)" fill="#000" stroke="none">
<path d="M0.235 0.045 Q0.25 -0.01 0.32 0 Q0.405 0.012 0.388 0.075 L0.178 0.95 Q0.158 1.012 0.08 1.0 Q-0.005 0.985 0.012 0.92 Z"/>
<path d="M0.29 0.39 Q0.55 0.155 0.85 0.05 L0.87 0.095 Q0.57 0.195 0.31 0.435 Z"/>
<ellipse cx="0.924" cy="0.12" rx="0.10" ry="0.094"/>
<path d="M0.27 0.40 C0.40 0.38 0.60 0.40 0.72 0.53 C0.78 0.60 0.79 0.72 0.795 0.86 C0.80 0.93 0.85 0.95 0.90 0.90 C0.97 0.83 1.02 0.72 1.045 0.635 L1.085 0.65 C1.05 0.80 0.96 1.005 0.80 1.005 C0.68 1.0 0.645 0.90 0.64 0.80 C0.635 0.66 0.60 0.56 0.52 0.51 C0.45 0.47 0.36 0.47 0.28 0.48 Z"/>
</g>
</g>
<g id="pc">
<clipPath id="clipC"><rect x="106" y="970.5" width="612.8" height="377.9"/></clipPath>
<path d="M114.1 1348.4 v-6.3 M114.1 970.5 v6.3 M130.67 1348.4 v-3.6 M130.67 970.5 v3.6 M147.25 1348.4 v-3.6 M147.25 970.5 v3.6 M163.82 1348.4 v-3.6 M163.82 970.5 v3.6 M180.4 1348.4 v-3.6 M180.4 970.5 v3.6 M196.97 1348.4 v-6.3 M196.97 970.5 v6.3 M213.54 1348.4 v-3.6 M213.54 970.5 v3.6 M230.12 1348.4 v-3.6 M230.12 970.5 v3.6 M246.69 1348.4 v-3.6 M246.69 970.5 v3.6 M263.27 1348.4 v-3.6 M263.27 970.5 v3.6 M279.84 1348.4 v-6.3 M279.84 970.5 v6.3 M296.41 1348.4 v-3.6 M296.41 970.5 v3.6 M312.99 1348.4 v-3.6 M312.99 970.5 v3.6 M329.56 1348.4 v-3.6 M329.56 970.5 v3.6 M346.14 1348.4 v-3.6 M346.14 970.5 v3.6 M362.71 1348.4 v-6.3 M362.71 970.5 v6.3 M379.28 1348.4 v-3.6 M379.28 970.5 v3.6 M395.86 1348.4 v-3.6 M395.86 970.5 v3.6 M412.43 1348.4 v-3.6 M412.43 970.5 v3.6 M429.01 1348.4 v-3.6 M429.01 970.5 v3.6 M445.58 1348.4 v-6.3 M445.58 970.5 v6.3 M462.15 1348.4 v-3.6 M462.15 970.5 v3.6 M478.73 1348.4 v-3.6 M478.73 970.5 v3.6 M495.3 1348.4 v-3.6 M495.3 970.5 v3.6 M511.88 1348.4 v-3.6 M511.88 970.5 v3.6 M528.45 1348.4 v-6.3 M528.45 970.5 v6.3 M545.02 1348.4 v-3.6 M545.02 970.5 v3.6 M561.6 1348.4 v-3.6 M561.6 970.5 v3.6 M578.17 1348.4 v-3.6 M578.17 970.5 v3.6 M594.75 1348.4 v-3.6 M594.75 970.5 v3.6 M611.32 1348.4 v-6.3 M611.32 970.5 v6.3 M627.89 1348.4 v-3.6 M627.89 970.5 v3.6 M644.47 1348.4 v-3.6 M644.47 970.5 v3.6 M661.04 1348.4 v-3.6 M661.04 970.5 v3.6 M677.62 1348.4 v-3.6 M677.62 970.5 v3.6 M694.19 1348.4 v-6.3 M694.19 970.5 v6.3 M710.76 1348.4 v-3.6 M710.76 970.5 v3.6 M106 1341.4 h6.6 M718.8 1341.4 h-6.6 M106 1323.77 h4 M718.8 1323.77 h-4 M106 1306.13 h4 M718.8 1306.13 h-4 M106 1288.5 h4 M718.8 1288.5 h-4 M106 1270.86 h6.6 M718.8 1270.86 h-6.6 M106 1253.23 h4 M718.8 1253.23 h-4 M106 1235.59 h4 M718.8 1235.59 h-4 M106 1217.96 h4 M718.8 1217.96 h-4 M106 1200.32 h6.6 M718.8 1200.32 h-6.6 M106 1182.69 h4 M718.8 1182.69 h-4 M106 1165.05 h4 M718.8 1165.05 h-4 M106 1147.41 h4 M718.8 1147.41 h-4 M106 1129.78 h6.6 M718.8 1129.78 h-6.6 M106 1112.14 h4 M718.8 1112.14 h-4 M106 1094.51 h4 M718.8 1094.51 h-4 M106 1076.88 h4 M718.8 1076.88 h-4 M106 1059.24 h6.6 M718.8 1059.24 h-6.6 M106 1041.61 h4 M718.8 1041.61 h-4 M106 1023.97 h4 M718.8 1023.97 h-4 M106 1006.34 h4 M718.8 1006.34 h-4 M106 988.7 h6.6 M718.8 988.7 h-6.6 M106 971.07 h4 M718.8 971.07 h-4" stroke="#111" stroke-width="1.5" fill="none"/>
<rect x="106" y="970.5" width="612.8" height="377.9" fill="none" stroke="#111" stroke-width="1.9"/>
<text x="100.4" y="1351.5" font-size="29.3" text-anchor="end">0.0</text>
<text x="100.4" y="1280.96" font-size="29.3" text-anchor="end">0.2</text>
<text x="100.4" y="1210.42" font-size="29.3" text-anchor="end">0.4</text>
<text x="100.4" y="1139.88" font-size="29.3" text-anchor="end">0.6</text>
<text x="100.4" y="1069.34" font-size="29.3" text-anchor="end">0.8</text>
<text x="100.4" y="998.8" font-size="29.3" text-anchor="end">1.0</text>
<text x="111.2" y="1378" font-size="29.3" text-anchor="middle">0.113</text>
<text x="276.94" y="1378" font-size="29.3" text-anchor="middle">0.114</text>
<text x="442.68" y="1378" font-size="29.3" text-anchor="middle">0.115</text>
<text x="608.42" y="1378" font-size="29.3" text-anchor="middle">0.116</text>
<g clip-path="url(#clipC)">
<path d="M125.5 1340.7 L169.5 1340.1 L248.4 1336.8 L302.3 1327.9 L341.7 1312.6 L368.3 1295.6 L387.8 1279.9 L401 1267.4 L410.1 1256.7 L416.9 1248.7 L421.5 1242.7 L424.39 1238.25 L426.61 1234.44 L428.17 1231.74 L429.26 1229.91 L431.8 1225.99 L434.34 1222.93 L435.43 1222 L436.99 1220.96 L439.21 1219.83 L442.39 1218.48 L446.7 1216.1 L453.5 1208.4 L462.9 1195.7 L475.7 1177.4 L495.5 1150.8 L522.3 1116.5 L561.8 1072.8 L614.9 1029.4 L694 998.6 L806.7 989.6" fill="none" stroke="#ff0000" stroke-width="2.35" stroke-linejoin="round"/>
<path d="M168.9 1341.2 L248.8 1340.8 L302.3 1338.1 L341.7 1326.3 L368.5 1311.1 L388.1 1292.1 L401 1276.6 L410.5 1262.1 L416.7 1251.3 L421 1243.37 L424.18 1237.32 L426.4 1233.11 L427.96 1230.21 L429.05 1228.22 L431.6 1223.75 L434.15 1219.56 L435.24 1217.84 L436.8 1215.46 L439.02 1212.15 L442.2 1207.54 L446.75 1200.91 L452.9 1191.1 L462.4 1172.9 L476 1149.4 L495.5 1113.1 L521.9 1070 L561.8 1025.9 L614.3 998.8 L694.5 990" fill="none" stroke="#ff8000" stroke-width="2.35" stroke-linejoin="round"/>
<path d="M169.6 1340.2 L249.5 1340.1 L303 1339.8 L342.4 1335.6 L369.2 1324.4 L388.8 1305.9 L401.7 1285.9 L411.2 1269.8 L417.6 1257.8 L422.4 1246.3 L424.88 1240.41 L427.1 1235.13 L428.66 1231.45 L429.75 1228.88 L432.3 1222.95 L434.85 1217.21 L435.94 1214.85 L437.5 1211.53 L439.72 1206.81 L442.9 1199.88 L447.4 1189 L453.4 1170.8 L463.1 1145.5 L476.5 1112 L496.2 1066.1 L522.6 1026.1 L562.5 996.6 L615 989.6 L695.2 989.6" fill="none" stroke="#00a600" stroke-width="2.35" stroke-linejoin="round"/>
<path d="M168.7 1340.1 L248.6 1340.1 L302.1 1340 L341.5 1339.1 L368.3 1334.7 L387.9 1323.5 L400.8 1305 L410.3 1285 L416.7 1269.7 L421.1 1258.7 L423.98 1249.77 L426.2 1242.06 L427.76 1236.45 L428.85 1232.5 L431.4 1223.42 L433.95 1214.76 L435.04 1211.1 L436.6 1205.9 L438.82 1198.46 L442 1187.68 L446.2 1172.8 L452.5 1148.2 L462.2 1111.9 L475.6 1069.1 L495.3 1025.2 L521.7 997.6 L561.3 989.6 L614.1 989.6 L694.3 989.6" fill="none" stroke="#0000ff" stroke-width="2.35" stroke-linejoin="round"/>
<path d="M169.9 1341.4 L249.8 1341.4 L303.3 1341.4 L342.7 1341.4 L369.5 1340.6 L389.1 1335.1 L402 1321.8 L411.5 1302.2 L417.9 1281.7 L422.7 1265.6 L425.18 1256.33 L427.4 1247.56 L428.96 1241.17 L430.05 1236.57 L432.6 1225.45 L435.15 1213.5 L436.24 1208.03 L437.8 1199.99 L440.02 1188.35 L442.7 1174.7 L447.4 1151.9 L453.7 1118.7 L463.4 1071.7 L476.8 1027.4 L496.5 996.9 L522.9 990.6 L562.5 990 L615.3 989.8 L695.5 989.8" fill="none" stroke="#0000a0" stroke-width="2.35" stroke-linejoin="round"/>
<path d="M170.2 1340.4 L250.1 1340.4 L303.6 1340.4 L343 1340.4 L369.8 1340 L388.4 1339 L402 1332.9 L411.9 1319 L419 1302.1 L424 1281.3 L427.2 1262.7 L430.4 1244.8 L432.2 1233.6 L432.8 1222.2 L436.5 1200.8 L437.9 1186.8 L442.1 1162.4 L446.6 1125.6 L453 1081.3 L463.2 1031.1 L476.6 999.6 L496.8 989.6 L523.2 989.6 L562.8 989.6 L615.6 989.6 L695.8 989.6" fill="none" stroke="#8b008b" stroke-width="2.35" stroke-linejoin="round"/>
<path d="M57 1341.4 L169.2 1341.4 L248 1341.4 L303.1 1341.4 L341.7 1341.4 L368.7 1341.4 L387.7 1341.4 L402 1339.8 L412.4 1334 L418.4 1320.2 L423.3 1302.8 L427.4 1280.8 L429.9 1258 L433.5 1229.6 L435.8 1196.8 L437.4 1177.8 L441.1 1144.1 L446.6 1093.8 L453.4 1041.2 L463.3 1001.9 L476.6 989.4 L495 989.6 L521.9 989.6 L560.5 989.6 L615.6 989.6 L694.4 989.6 L807 989.6" fill="none" stroke="#000" stroke-width="2.6" stroke-linejoin="round"/>
<circle cx="169.8" cy="1341" r="5.4" fill="#ff0000"/>
<circle cx="248.7" cy="1337.7" r="5.4" fill="#ff0000"/>
<circle cx="302.6" cy="1328.8" r="5.4" fill="#ff0000"/>
<circle cx="342" cy="1313.5" r="5.4" fill="#ff0000"/>
<circle cx="368.6" cy="1296.5" r="5.4" fill="#ff0000"/>
<circle cx="388.1" cy="1280.8" r="5.4" fill="#ff0000"/>
<circle cx="401.3" cy="1268.3" r="5.4" fill="#ff0000"/>
<circle cx="410.4" cy="1257.6" r="5.4" fill="#ff0000"/>
<circle cx="417.2" cy="1249.6" r="5.4" fill="#ff0000"/>
<circle cx="421.8" cy="1243.6" r="5.4" fill="#ff0000"/>
<circle cx="424.69" cy="1239.15" r="5.4" fill="#ff0000"/>
<circle cx="426.91" cy="1235.34" r="5.4" fill="#ff0000"/>
<circle cx="428.47" cy="1232.64" r="5.4" fill="#ff0000"/>
<circle cx="429.56" cy="1230.81" r="5.4" fill="#ff0000"/>
<circle cx="432.1" cy="1226.89" r="5.4" fill="#ff0000"/>
<circle cx="434.64" cy="1223.83" r="5.4" fill="#ff0000"/>
<circle cx="435.73" cy="1222.9" r="5.4" fill="#ff0000"/>
<circle cx="437.29" cy="1221.86" r="5.4" fill="#ff0000"/>
<circle cx="439.51" cy="1220.73" r="5.4" fill="#ff0000"/>
<circle cx="442.69" cy="1219.38" r="5.4" fill="#ff0000"/>
<circle cx="447" cy="1217" r="5.4" fill="#ff0000"/>
<circle cx="453.8" cy="1209.3" r="5.4" fill="#ff0000"/>
<circle cx="463.2" cy="1196.6" r="5.4" fill="#ff0000"/>
<circle cx="476" cy="1178.3" r="5.4" fill="#ff0000"/>
<circle cx="495.8" cy="1151.7" r="5.4" fill="#ff0000"/>
<circle cx="522.6" cy="1117.4" r="5.4" fill="#ff0000"/>
<circle cx="562.1" cy="1073.7" r="5.4" fill="#ff0000"/>
<circle cx="615.2" cy="1030.3" r="5.4" fill="#ff0000"/>
<circle cx="694.3" cy="999.5" r="5.4" fill="#ff0000"/>
<circle cx="807" cy="990.2" r="5.4" fill="#ff0000"/>
<rect x="167.4" y="1336.3" width="10" height="10" fill="#ff8000"/>
<rect x="247.3" y="1335.9" width="10" height="10" fill="#ff8000"/>
<rect x="300.8" y="1333.2" width="10" height="10" fill="#ff8000"/>
<rect x="340.2" y="1321.4" width="10" height="10" fill="#ff8000"/>
<rect x="367" y="1306.2" width="10" height="10" fill="#ff8000"/>
<rect x="386.6" y="1287.2" width="10" height="10" fill="#ff8000"/>
<rect x="399.5" y="1271.7" width="10" height="10" fill="#ff8000"/>
<rect x="409" y="1257.2" width="10" height="10" fill="#ff8000"/>
<rect x="415.2" y="1246.4" width="10" height="10" fill="#ff8000"/>
<rect x="419.5" y="1238.47" width="10" height="10" fill="#ff8000"/>
<rect x="422.68" y="1232.42" width="10" height="10" fill="#ff8000"/>
<rect x="424.9" y="1228.21" width="10" height="10" fill="#ff8000"/>
<rect x="426.46" y="1225.31" width="10" height="10" fill="#ff8000"/>
<rect x="427.55" y="1223.32" width="10" height="10" fill="#ff8000"/>
<rect x="430.1" y="1218.85" width="10" height="10" fill="#ff8000"/>
<rect x="432.65" y="1214.66" width="10" height="10" fill="#ff8000"/>
<rect x="433.74" y="1212.94" width="10" height="10" fill="#ff8000"/>
<rect x="435.3" y="1210.56" width="10" height="10" fill="#ff8000"/>
<rect x="437.52" y="1207.25" width="10" height="10" fill="#ff8000"/>
<rect x="440.7" y="1202.64" width="10" height="10" fill="#ff8000"/>
<rect x="445.25" y="1196.01" width="10" height="10" fill="#ff8000"/>
<rect x="451.4" y="1186.2" width="10" height="10" fill="#ff8000"/>
<rect x="460.9" y="1168" width="10" height="10" fill="#ff8000"/>
<rect x="474.5" y="1144.5" width="10" height="10" fill="#ff8000"/>
<rect x="494" y="1108.2" width="10" height="10" fill="#ff8000"/>
<rect x="520.4" y="1065.1" width="10" height="10" fill="#ff8000"/>
<rect x="560.3" y="1021" width="10" height="10" fill="#ff8000"/>
<rect x="612.8" y="993.9" width="10" height="10" fill="#ff8000"/>
<rect x="693" y="985.1" width="10" height="10" fill="#ff8000"/>
<path d="M165.4 1341.4 l7 -7 l7 7 l-7 7 Z" fill="#00a600"/>
<path d="M245.3 1341.3 l7 -7 l7 7 l-7 7 Z" fill="#00a600"/>
<path d="M298.8 1341 l7 -7 l7 7 l-7 7 Z" fill="#00a600"/>
<path d="M338.2 1336.8 l7 -7 l7 7 l-7 7 Z" fill="#00a600"/>
<path d="M365 1325.6 l7 -7 l7 7 l-7 7 Z" fill="#00a600"/>
<path d="M384.6 1307.1 l7 -7 l7 7 l-7 7 Z" fill="#00a600"/>
<path d="M397.5 1287.1 l7 -7 l7 7 l-7 7 Z" fill="#00a600"/>
<path d="M407 1271 l7 -7 l7 7 l-7 7 Z" fill="#00a600"/>
<path d="M413.4 1259 l7 -7 l7 7 l-7 7 Z" fill="#00a600"/>
<path d="M418.2 1247.5 l7 -7 l7 7 l-7 7 Z" fill="#00a600"/>
<path d="M420.68 1241.61 l7 -7 l7 7 l-7 7 Z" fill="#00a600"/>
<path d="M422.9 1236.33 l7 -7 l7 7 l-7 7 Z" fill="#00a600"/>
<path d="M424.46 1232.65 l7 -7 l7 7 l-7 7 Z" fill="#00a600"/>
<path d="M425.55 1230.08 l7 -7 l7 7 l-7 7 Z" fill="#00a600"/>
<path d="M428.1 1224.15 l7 -7 l7 7 l-7 7 Z" fill="#00a600"/>
<path d="M430.65 1218.41 l7 -7 l7 7 l-7 7 Z" fill="#00a600"/>
<path d="M431.74 1216.05 l7 -7 l7 7 l-7 7 Z" fill="#00a600"/>
<path d="M433.3 1212.73 l7 -7 l7 7 l-7 7 Z" fill="#00a600"/>
<path d="M435.52 1208.01 l7 -7 l7 7 l-7 7 Z" fill="#00a600"/>
<path d="M438.7 1201.08 l7 -7 l7 7 l-7 7 Z" fill="#00a600"/>
<path d="M443.2 1190.2 l7 -7 l7 7 l-7 7 Z" fill="#00a600"/>
<path d="M449.2 1172 l7 -7 l7 7 l-7 7 Z" fill="#00a600"/>
<path d="M458.9 1146.7 l7 -7 l7 7 l-7 7 Z" fill="#00a600"/>
<path d="M472.3 1113.2 l7 -7 l7 7 l-7 7 Z" fill="#00a600"/>
<path d="M492 1067.3 l7 -7 l7 7 l-7 7 Z" fill="#00a600"/>
<path d="M518.4 1027.3 l7 -7 l7 7 l-7 7 Z" fill="#00a600"/>
<path d="M558.3 997.8 l7 -7 l7 7 l-7 7 Z" fill="#00a600"/>
<path d="M610.8 990.2 l7 -7 l7 7 l-7 7 Z" fill="#00a600"/>
<path d="M691 989.6 l7 -7 l7 7 l-7 7 Z" fill="#00a600"/>
<path d="M166.6 1345.1 l5.8 -9.0 l5.8 9.0 Z" fill="#0000ff"/>
<path d="M246.5 1345.1 l5.8 -9.0 l5.8 9.0 Z" fill="#0000ff"/>
<path d="M300 1345 l5.8 -9.0 l5.8 9.0 Z" fill="#0000ff"/>
<path d="M339.4 1344.1 l5.8 -9.0 l5.8 9.0 Z" fill="#0000ff"/>
<path d="M366.2 1339.7 l5.8 -9.0 l5.8 9.0 Z" fill="#0000ff"/>
<path d="M385.8 1328.5 l5.8 -9.0 l5.8 9.0 Z" fill="#0000ff"/>
<path d="M398.7 1310 l5.8 -9.0 l5.8 9.0 Z" fill="#0000ff"/>
<path d="M408.2 1290 l5.8 -9.0 l5.8 9.0 Z" fill="#0000ff"/>
<path d="M414.6 1274.7 l5.8 -9.0 l5.8 9.0 Z" fill="#0000ff"/>
<path d="M419 1263.7 l5.8 -9.0 l5.8 9.0 Z" fill="#0000ff"/>
<path d="M421.88 1254.77 l5.8 -9.0 l5.8 9.0 Z" fill="#0000ff"/>
<path d="M424.1 1247.06 l5.8 -9.0 l5.8 9.0 Z" fill="#0000ff"/>
<path d="M425.66 1241.45 l5.8 -9.0 l5.8 9.0 Z" fill="#0000ff"/>
<path d="M426.75 1237.5 l5.8 -9.0 l5.8 9.0 Z" fill="#0000ff"/>
<path d="M429.3 1228.42 l5.8 -9.0 l5.8 9.0 Z" fill="#0000ff"/>
<path d="M431.85 1219.76 l5.8 -9.0 l5.8 9.0 Z" fill="#0000ff"/>
<path d="M432.94 1216.1 l5.8 -9.0 l5.8 9.0 Z" fill="#0000ff"/>
<path d="M434.5 1210.9 l5.8 -9.0 l5.8 9.0 Z" fill="#0000ff"/>
<path d="M436.72 1203.46 l5.8 -9.0 l5.8 9.0 Z" fill="#0000ff"/>
<path d="M439.9 1192.68 l5.8 -9.0 l5.8 9.0 Z" fill="#0000ff"/>
<path d="M444.1 1177.8 l5.8 -9.0 l5.8 9.0 Z" fill="#0000ff"/>
<path d="M450.4 1153.2 l5.8 -9.0 l5.8 9.0 Z" fill="#0000ff"/>
<path d="M460.1 1116.9 l5.8 -9.0 l5.8 9.0 Z" fill="#0000ff"/>
<path d="M473.5 1074.1 l5.8 -9.0 l5.8 9.0 Z" fill="#0000ff"/>
<path d="M493.2 1030.2 l5.8 -9.0 l5.8 9.0 Z" fill="#0000ff"/>
<path d="M519.6 1002.6 l5.8 -9.0 l5.8 9.0 Z" fill="#0000ff"/>
<path d="M559.2 994 l5.8 -9.0 l5.8 9.0 Z" fill="#0000ff"/>
<path d="M612 993.4 l5.8 -9.0 l5.8 9.0 Z" fill="#0000ff"/>
<path d="M692.2 993.3 l5.8 -9.0 l5.8 9.0 Z" fill="#0000ff"/>
<path d="M166.7 1337.8 l5.7 9.0 l5.7 -9.0 Z" fill="#0000a0"/>
<path d="M246.6 1337.8 l5.7 9.0 l5.7 -9.0 Z" fill="#0000a0"/>
<path d="M300.1 1337.8 l5.7 9.0 l5.7 -9.0 Z" fill="#0000a0"/>
<path d="M339.5 1337.6 l5.7 9.0 l5.7 -9.0 Z" fill="#0000a0"/>
<path d="M366.3 1336.8 l5.7 9.0 l5.7 -9.0 Z" fill="#0000a0"/>
<path d="M385.9 1331.3 l5.7 9.0 l5.7 -9.0 Z" fill="#0000a0"/>
<path d="M398.8 1318 l5.7 9.0 l5.7 -9.0 Z" fill="#0000a0"/>
<path d="M408.3 1298.4 l5.7 9.0 l5.7 -9.0 Z" fill="#0000a0"/>
<path d="M414.7 1277.9 l5.7 9.0 l5.7 -9.0 Z" fill="#0000a0"/>
<path d="M419.5 1261.8 l5.7 9.0 l5.7 -9.0 Z" fill="#0000a0"/>
<path d="M421.98 1252.53 l5.7 9.0 l5.7 -9.0 Z" fill="#0000a0"/>
<path d="M424.2 1243.76 l5.7 9.0 l5.7 -9.0 Z" fill="#0000a0"/>
<path d="M425.76 1237.37 l5.7 9.0 l5.7 -9.0 Z" fill="#0000a0"/>
<path d="M426.85 1232.77 l5.7 9.0 l5.7 -9.0 Z" fill="#0000a0"/>
<path d="M429.4 1221.65 l5.7 9.0 l5.7 -9.0 Z" fill="#0000a0"/>
<path d="M431.95 1209.7 l5.7 9.0 l5.7 -9.0 Z" fill="#0000a0"/>
<path d="M433.04 1204.23 l5.7 9.0 l5.7 -9.0 Z" fill="#0000a0"/>
<path d="M434.6 1196.19 l5.7 9.0 l5.7 -9.0 Z" fill="#0000a0"/>
<path d="M436.82 1184.55 l5.7 9.0 l5.7 -9.0 Z" fill="#0000a0"/>
<path d="M439.5 1170.9 l5.7 9.0 l5.7 -9.0 Z" fill="#0000a0"/>
<path d="M444.2 1148.1 l5.7 9.0 l5.7 -9.0 Z" fill="#0000a0"/>
<path d="M450.5 1114.9 l5.7 9.0 l5.7 -9.0 Z" fill="#0000a0"/>
<path d="M460.2 1067.9 l5.7 9.0 l5.7 -9.0 Z" fill="#0000a0"/>
<path d="M473.6 1023.6 l5.7 9.0 l5.7 -9.0 Z" fill="#0000a0"/>
<path d="M493.3 993.1 l5.7 9.0 l5.7 -9.0 Z" fill="#0000a0"/>
<path d="M519.7 986.8 l5.7 9.0 l5.7 -9.0 Z" fill="#0000a0"/>
<path d="M559.3 986.2 l5.7 9.0 l5.7 -9.0 Z" fill="#0000a0"/>
<path d="M612.1 986 l5.7 9.0 l5.7 -9.0 Z" fill="#0000a0"/>
<path d="M692.3 986 l5.7 9.0 l5.7 -9.0 Z" fill="#0000a0"/>
<circle cx="172.4" cy="1341.4" r="5.7" fill="none" stroke="#8b008b" stroke-width="1"/>
<circle cx="252.3" cy="1341.4" r="5.7" fill="none" stroke="#8b008b" stroke-width="1"/>
<circle cx="305.8" cy="1341.4" r="5.7" fill="none" stroke="#8b008b" stroke-width="1"/>
<circle cx="345.2" cy="1341.4" r="5.7" fill="none" stroke="#8b008b" stroke-width="1"/>
<circle cx="372" cy="1341" r="5.7" fill="none" stroke="#8b008b" stroke-width="1"/>
<circle cx="390.6" cy="1340" r="5.7" fill="none" stroke="#8b008b" stroke-width="1"/>
<circle cx="404.2" cy="1333.9" r="5.7" fill="none" stroke="#8b008b" stroke-width="1"/>
<circle cx="414.1" cy="1320" r="5.7" fill="none" stroke="#8b008b" stroke-width="1"/>
<circle cx="421.2" cy="1303.1" r="5.7" fill="none" stroke="#8b008b" stroke-width="1"/>
<circle cx="426.2" cy="1282.3" r="5.7" fill="none" stroke="#8b008b" stroke-width="1"/>
<circle cx="429.4" cy="1263.7" r="5.7" fill="none" stroke="#8b008b" stroke-width="1"/>
<circle cx="432.6" cy="1245.8" r="5.7" fill="none" stroke="#8b008b" stroke-width="1"/>
<circle cx="434.4" cy="1234.6" r="5.7" fill="none" stroke="#8b008b" stroke-width="1"/>
<circle cx="435" cy="1223.2" r="5.7" fill="none" stroke="#8b008b" stroke-width="1"/>
<circle cx="438.7" cy="1201.8" r="5.7" fill="none" stroke="#8b008b" stroke-width="1"/>
<circle cx="440.1" cy="1187.8" r="5.7" fill="none" stroke="#8b008b" stroke-width="1"/>
<circle cx="444.3" cy="1163.4" r="5.7" fill="none" stroke="#8b008b" stroke-width="1"/>
<circle cx="448.8" cy="1126.6" r="5.7" fill="none" stroke="#8b008b" stroke-width="1"/>
<circle cx="455.2" cy="1082.3" r="5.7" fill="none" stroke="#8b008b" stroke-width="1"/>
<circle cx="465.4" cy="1032.1" r="5.7" fill="none" stroke="#8b008b" stroke-width="1"/>
<circle cx="478.8" cy="1000.6" r="5.7" fill="none" stroke="#8b008b" stroke-width="1"/>
<circle cx="499" cy="990.4" r="5.7" fill="none" stroke="#8b008b" stroke-width="1"/>
<circle cx="525.4" cy="989.8" r="5.7" fill="none" stroke="#8b008b" stroke-width="1"/>
<circle cx="565" cy="989.6" r="5.7" fill="none" stroke="#8b008b" stroke-width="1"/>
<circle cx="617.8" cy="989.6" r="5.7" fill="none" stroke="#8b008b" stroke-width="1"/>
<circle cx="698" cy="989.6" r="5.7" fill="none" stroke="#8b008b" stroke-width="1"/>
<rect x="166.4" y="1340.8" width="5.6" height="5.6" fill="none" stroke="#222" stroke-width="0.7"/>
<rect x="245.2" y="1340.8" width="5.6" height="5.6" fill="none" stroke="#222" stroke-width="0.7"/>
<rect x="300.3" y="1340.8" width="5.6" height="5.6" fill="none" stroke="#222" stroke-width="0.7"/>
<rect x="338.9" y="1340.8" width="5.6" height="5.6" fill="none" stroke="#222" stroke-width="0.7"/>
<rect x="365.9" y="1340.8" width="5.6" height="5.6" fill="none" stroke="#222" stroke-width="0.7"/>
<rect x="384.9" y="1340.8" width="5.6" height="5.6" fill="none" stroke="#222" stroke-width="0.7"/>
<rect x="399.2" y="1339.2" width="5.6" height="5.6" fill="none" stroke="#222" stroke-width="0.7"/>
<rect x="409.6" y="1333.4" width="5.6" height="5.6" fill="none" stroke="#222" stroke-width="0.7"/>
<rect x="415.6" y="1319.6" width="5.6" height="5.6" fill="none" stroke="#222" stroke-width="0.7"/>
<rect x="420.5" y="1302.2" width="5.6" height="5.6" fill="none" stroke="#222" stroke-width="0.7"/>
<rect x="424.6" y="1280.2" width="5.6" height="5.6" fill="none" stroke="#222" stroke-width="0.7"/>
<rect x="427.1" y="1257.4" width="5.6" height="5.6" fill="none" stroke="#222" stroke-width="0.7"/>
<rect x="430.7" y="1229" width="5.6" height="5.6" fill="none" stroke="#222" stroke-width="0.7"/>
<rect x="433" y="1196.2" width="5.6" height="5.6" fill="none" stroke="#222" stroke-width="0.7"/>
<rect x="434.6" y="1177.2" width="5.6" height="5.6" fill="none" stroke="#222" stroke-width="0.7"/>
<rect x="438.3" y="1143.5" width="5.6" height="5.6" fill="none" stroke="#222" stroke-width="0.7"/>
<rect x="443.8" y="1093.2" width="5.6" height="5.6" fill="none" stroke="#222" stroke-width="0.7"/>
<rect x="450.6" y="1040.6" width="5.6" height="5.6" fill="none" stroke="#222" stroke-width="0.7"/>
<rect x="460.5" y="1001.3" width="5.6" height="5.6" fill="none" stroke="#222" stroke-width="0.7"/>
<rect x="473.8" y="988.8" width="5.6" height="5.6" fill="none" stroke="#222" stroke-width="0.7"/>
<rect x="492.2" y="989" width="5.6" height="5.6" fill="none" stroke="#222" stroke-width="0.7"/>
<rect x="519.1" y="989" width="5.6" height="5.6" fill="none" stroke="#222" stroke-width="0.7"/>
<rect x="557.7" y="989" width="5.6" height="5.6" fill="none" stroke="#222" stroke-width="0.7"/>
<rect x="612.8" y="989" width="5.6" height="5.6" fill="none" stroke="#222" stroke-width="0.7"/>
<rect x="691.6" y="989" width="5.6" height="5.6" fill="none" stroke="#222" stroke-width="0.7"/>
</g>
<path d="M125.2 1007.2 H152.4" stroke="#ff0000" stroke-width="2.6" fill="none"/>
<circle cx="137.5" cy="1008.5" r="5.4" fill="#ff0000"/>
<text transform="translate(164.54 1013.1) scale(1.063 1)" font-size="29.92" font-style="italic">N</text>
<path d="M197.3 1002.7 H215.1 M197.3 1008.4 H215.1" stroke="#000" stroke-width="1.25" fill="none"/>
<text transform="translate(224.39 1013.3) scale(0.95 1)" font-size="30.15">1</text>
<circle cx="241.8" cy="1011.7" r="1.45" fill="#000"/>
<text transform="translate(245.22 1013.3) scale(0.95 1)" font-size="30.04">2</text>
<text transform="translate(258.45 1013.01) scale(0.95 1)" font-size="29.48">8</text>
<path d="M282.1 998.5 l13.4 13.4 m0 -13.4 l-13.4 13.4" stroke="#000" stroke-width="1.25" fill="none"/>
<text transform="translate(305.59 1013.3) scale(0.95 1)" font-size="30.15">1</text>
<text transform="translate(318.65 1013.01) scale(0.95 1)" font-size="29.48">0</text>
<text transform="translate(331.85 1001.4) scale(1.005 1)" font-size="19.78">6</text>
<path d="M125.2 1059.35 H152.4" stroke="#ff8000" stroke-width="2.6" fill="none"/>
<rect x="136" y="1055.15" width="10" height="10" fill="#ff8000"/>
<text transform="translate(164.54 1065.25) scale(1.063 1)" font-size="29.92" font-style="italic">N</text>
<path d="M197.3 1054.85 H215.1 M197.3 1060.55 H215.1" stroke="#000" stroke-width="1.25" fill="none"/>
<text transform="translate(224.72 1065.45) scale(0.95 1)" font-size="30.04">2</text>
<circle cx="241.8" cy="1063.85" r="1.45" fill="#000"/>
<text transform="translate(244.87 1065.15) scale(0.95 1)" font-size="29.92">5</text>
<text transform="translate(258.31 1065.15) scale(0.95 1)" font-size="29.59">6</text>
<path d="M282.1 1050.65 l13.4 13.4 m0 -13.4 l-13.4 13.4" stroke="#000" stroke-width="1.25" fill="none"/>
<text transform="translate(305.59 1065.45) scale(0.95 1)" font-size="30.15">1</text>
<text transform="translate(318.65 1065.16) scale(0.95 1)" font-size="29.48">0</text>
<text transform="translate(331.85 1053.55) scale(1.005 1)" font-size="19.78">6</text>
<path d="M125.2 1111.5 H152.4" stroke="#00a600" stroke-width="2.6" fill="none"/>
<path d="M133.85 1112.6 l7 -7 l7 7 l-7 7 Z" fill="#00a600"/>
<text transform="translate(164.54 1117.4) scale(1.063 1)" font-size="29.92" font-style="italic">N</text>
<path d="M197.3 1107 H215.1 M197.3 1112.7 H215.1" stroke="#000" stroke-width="1.25" fill="none"/>
<text transform="translate(224.37 1117.3) scale(0.95 1)" font-size="29.92">5</text>
<circle cx="241.8" cy="1116" r="1.45" fill="#000"/>
<text transform="translate(243.99 1117.6) scale(0.95 1)" font-size="30.15">1</text>
<text transform="translate(258.22 1117.6) scale(0.95 1)" font-size="30.04">2</text>
<path d="M282.1 1102.8 l13.4 13.4 m0 -13.4 l-13.4 13.4" stroke="#000" stroke-width="1.25" fill="none"/>
<text transform="translate(305.59 1117.6) scale(0.95 1)" font-size="30.15">1</text>
<text transform="translate(318.65 1117.31) scale(0.95 1)" font-size="29.48">0</text>
<text transform="translate(331.85 1105.7) scale(1.005 1)" font-size="19.78">6</text>
<path d="M125.2 1163.65 H152.4" stroke="#0000ff" stroke-width="2.6" fill="none"/>
<path d="M135.5 1168.15 l5.8 -9.0 l5.8 9.0 Z" fill="#0000ff"/>
<text transform="translate(164.54 1169.55) scale(1.063 1)" font-size="29.92" font-style="italic">N</text>
<path d="M197.3 1159.15 H215.1 M197.3 1164.85 H215.1" stroke="#000" stroke-width="1.25" fill="none"/>
<text transform="translate(224.39 1169.75) scale(0.95 1)" font-size="30.15">1</text>
<circle cx="241.8" cy="1168.15" r="1.45" fill="#000"/>
<text transform="translate(245.45 1169.46) scale(0.95 1)" font-size="29.48">0</text>
<text transform="translate(258.22 1169.75) scale(0.95 1)" font-size="30.04">2</text>
<text transform="translate(271.32 1169.75) scale(0.95 1)" font-size="30.27">4</text>
<path d="M295.15 1154.95 l13.4 13.4 m0 -13.4 l-13.4 13.4" stroke="#000" stroke-width="1.25" fill="none"/>
<text transform="translate(318.64 1169.75) scale(0.95 1)" font-size="30.15">1</text>
<text transform="translate(331.7 1169.46) scale(0.95 1)" font-size="29.48">0</text>
<text transform="translate(344.49 1158.05) scale(1.034 1)" font-size="20.31">7</text>
<path d="M125.2 1215.8 H152.4" stroke="#0000a0" stroke-width="2.6" fill="none"/>
<path d="M136 1211.6 l5.7 9.0 l5.7 -9.0 Z" fill="#0000a0"/>
<text transform="translate(164.54 1221.7) scale(1.063 1)" font-size="29.92" font-style="italic">N</text>
<path d="M197.3 1211.3 H215.1 M197.3 1217 H215.1" stroke="#000" stroke-width="1.25" fill="none"/>
<text transform="translate(224.72 1221.9) scale(0.95 1)" font-size="30.04">2</text>
<circle cx="241.8" cy="1220.3" r="1.45" fill="#000"/>
<text transform="translate(245.45 1221.61) scale(0.95 1)" font-size="29.48">0</text>
<text transform="translate(258.52 1221.9) scale(0.95 1)" font-size="30.27">4</text>
<text transform="translate(271.25 1221.61) scale(0.95 1)" font-size="29.48">8</text>
<path d="M295.15 1207.1 l13.4 13.4 m0 -13.4 l-13.4 13.4" stroke="#000" stroke-width="1.25" fill="none"/>
<text transform="translate(318.64 1221.9) scale(0.95 1)" font-size="30.15">1</text>
<text transform="translate(331.7 1221.61) scale(0.95 1)" font-size="29.48">0</text>
<text transform="translate(344.49 1210.2) scale(1.034 1)" font-size="20.31">7</text>
<path d="M125.2 1267.95 H152.4" stroke="#8b008b" stroke-width="2.6" fill="none"/>
<circle cx="140.1" cy="1268.25" r="5.7" fill="none" stroke="#8b008b" stroke-width="1"/>
<text transform="translate(164.54 1273.85) scale(1.063 1)" font-size="29.92" font-style="italic">N</text>
<path d="M197.3 1263.45 H215.1 M197.3 1269.15 H215.1" stroke="#000" stroke-width="1.25" fill="none"/>
<text transform="translate(225.42 1274.05) scale(0.95 1)" font-size="30.27">4</text>
<circle cx="241.8" cy="1272.45" r="1.45" fill="#000"/>
<text transform="translate(245.45 1273.76) scale(0.95 1)" font-size="29.48">0</text>
<text transform="translate(258.59 1273.75) scale(0.95 1)" font-size="29.59">9</text>
<text transform="translate(271.11 1273.75) scale(0.95 1)" font-size="29.59">6</text>
<path d="M295.15 1259.25 l13.4 13.4 m0 -13.4 l-13.4 13.4" stroke="#000" stroke-width="1.25" fill="none"/>
<text transform="translate(318.64 1274.05) scale(0.95 1)" font-size="30.15">1</text>
<text transform="translate(331.7 1273.76) scale(0.95 1)" font-size="29.48">0</text>
<text transform="translate(344.49 1262.35) scale(1.034 1)" font-size="20.31">7</text>
<path transform="translate(636.6 1268.2)" d="M9.35 0 Q-9.35 21.4 9.35 42.8 L10.1 42.8 Q-4.55 21.4 10.1 0 Z" fill="#000"/>
<text transform="translate(649.65 1299.9) scale(1.094 1)" font-size="40.21">c</text>
<path transform="translate(671.3 1268.2)" d="M0.75 0 Q19.65 21.4 0.75 42.8 L0 42.8 Q14.85 21.4 0 0 Z" fill="#000"/>
<g transform="translate(9.8 1230.4) rotate(-90) scale(30 30.6)" fill="none" stroke="#000" stroke-linecap="round" stroke-linejoin="round">
<path d="M0.405 0.03 L0.215 0.97" stroke-width="0.095" stroke-linecap="butt"/>
<path d="M0.23 0.02 L0.80 0.02" stroke-width="0.038"/>
<path d="M0.015 0.982 L0.44 0.982" stroke-width="0.038"/>
<path d="M0.78 0.02 Q0.99 0.035 0.985 0.225 Q0.965 0.50 0.64 0.535 L0.32 0.535" stroke-width="0.038"/>
<path d="M0.90 0.075 Q0.965 0.13 0.955 0.24 Q0.93 0.40 0.80 0.475" stroke-width="0.095"/>
</g>
<path transform="translate(39.8 1191.4) rotate(-90)" d="M0 0 C-3.51 -7.03 -10.76 -7.7 -11 0 C-10.76 7.7 -3.51 7.03 0 0 C3.51 -8.04 11.47 -8.71 11.7 0 C11.47 8.71 3.51 8.04 0 0 Z" fill="none" stroke="#000" stroke-width="1.8"/>
<text transform="translate(46.34 1174.81) rotate(-90) scale(0.800 1)" font-size="34.56">,</text>
<text transform="translate(46.1 1168.03) rotate(-90) scale(1.170 1)" font-size="30.99" font-style="italic">N</text>
<path transform="translate(7.2 1136.7) rotate(-90)" d="M8.75 0 Q-8.75 21.7 8.75 43.4 L9.5 43.4 Q-5.15 21.7 9.5 0 Z" fill="#000"/>
<g transform="translate(40.2 1123.3) rotate(-90) scale(19.45 19.3) translate(0 -1)" fill="#000" stroke="none">
<path d="M0.235 0.045 Q0.25 -0.01 0.32 0 Q0.405 0.012 0.388 0.075 L0.178 0.95 Q0.158 1.012 0.08 1.0 Q-0.005 0.985 0.012 0.92 Z"/>
<path d="M0.29 0.39 Q0.55 0.155 0.85 0.05 L0.87 0.095 Q0.57 0.195 0.31 0.435 Z"/>
<ellipse cx="0.924" cy="0.12" rx="0.10" ry="0.094"/>
<path d="M0.27 0.40 C0.40 0.38 0.60 0.40 0.72 0.53 C0.78 0.60 0.79 0.72 0.795 0.86 C0.80 0.93 0.85 0.95 0.90 0.90 C0.97 0.83 1.02 0.72 1.045 0.635 L1.085 0.65 C1.05 0.80 0.96 1.005 0.80 1.005 C0.68 1.0 0.645 0.90 0.64 0.80 C0.635 0.66 0.60 0.56 0.52 0.51 C0.45 0.47 0.36 0.47 0.28 0.48 Z"/>
</g>
<path transform="translate(7.2 1099.4) rotate(-90)" d="M0.75 0 Q18.05 21.7 0.75 43.4 L0 43.4 Q14.45 21.7 0 0 Z" fill="#000"/>
<g transform="translate(402.7 1430.6) scale(19.54 19.6) translate(0 -1)" fill="#000" stroke="none">
<path d="M0.235 0.045 Q0.25 -0.01 0.32 0 Q0.405 0.012 0.388 0.075 L0.178 0.95 Q0.158 1.012 0.08 1.0 Q-0.005 0.985 0.012 0.92 Z"/>
<path d="M0.29 0.39 Q0.55 0.155 0.85 0.05 L0.87 0.095 Q0.57 0.195 0.31 0.435 Z"/>
<ellipse cx="0.924" cy="0.12" rx="0.10" ry="0.094"/>
<path d="M0.27 0.40 C0.40 0.38 0.60 0.40 0.72 0.53 C0.78 0.60 0.79 0.72 0.795 0.86 C0.80 0.93 0.85 0.95 0.90 0.90 C0.97 0.83 1.02 0.72 1.045 0.635 L1.085 0.65 C1.05 0.80 0.96 1.005 0.80 1.005 C0.68 1.0 0.645 0.90 0.64 0.80 C0.635 0.66 0.60 0.56 0.52 0.51 C0.45 0.47 0.36 0.47 0.28 0.48 Z"/>
</g>
</g>
</svg>
</body></html>
